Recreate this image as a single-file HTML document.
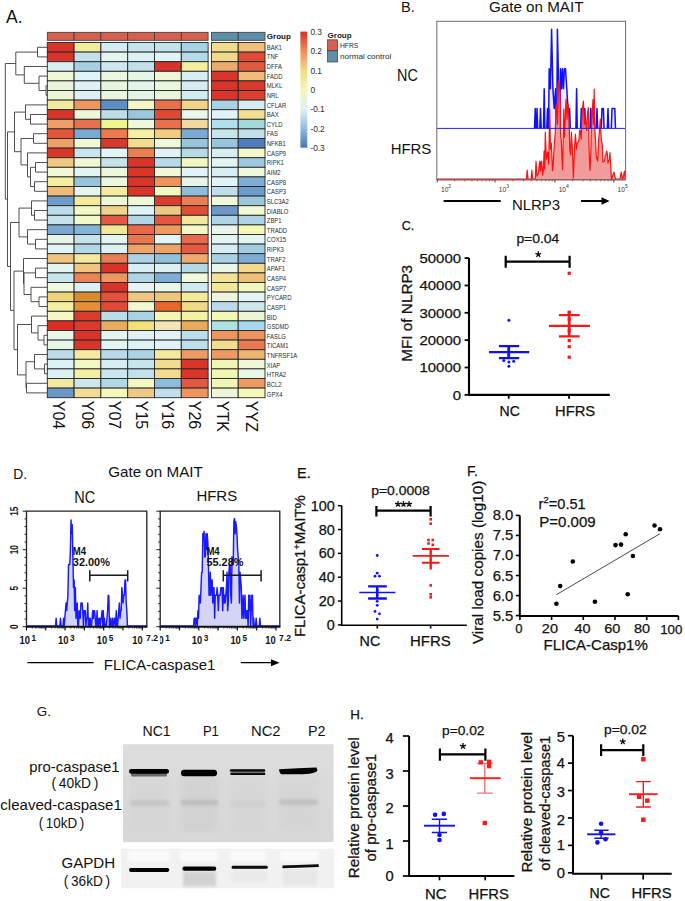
<!DOCTYPE html>
<html><head><meta charset="utf-8"><title>Figure</title>
<style>
html,body{margin:0;padding:0;background:#fff;}
svg{display:block;}
text{font-family:"Liberation Sans", sans-serif;}
.hv text{stroke:#111;stroke-width:0.25px;}
</style></head><body>
<svg width="685" height="901" viewBox="0 0 685 901" font-family="Liberation Sans, sans-serif">
<rect width="685" height="901" fill="#fff"/>
<text x="6" y="23" font-size="17.5" fill="#111">A.</text>
<rect x="47.30" y="32.3" width="26.80" height="8" fill="#D65F4F" stroke="#3a3a3a" stroke-width="0.8"/>
<rect x="74.10" y="32.3" width="26.80" height="8" fill="#D65F4F" stroke="#3a3a3a" stroke-width="0.8"/>
<rect x="100.90" y="32.3" width="26.80" height="8" fill="#D65F4F" stroke="#3a3a3a" stroke-width="0.8"/>
<rect x="127.70" y="32.3" width="26.80" height="8" fill="#D65F4F" stroke="#3a3a3a" stroke-width="0.8"/>
<rect x="154.50" y="32.3" width="26.80" height="8" fill="#D65F4F" stroke="#3a3a3a" stroke-width="0.8"/>
<rect x="181.30" y="32.3" width="26.80" height="8" fill="#D65F4F" stroke="#3a3a3a" stroke-width="0.8"/>
<rect x="211.40" y="32.3" width="26.80" height="8" fill="#5F8FA8" stroke="#3a3a3a" stroke-width="0.8"/>
<rect x="238.20" y="32.3" width="26.80" height="8" fill="#5F8FA8" stroke="#3a3a3a" stroke-width="0.8"/>
<rect x="47.30" y="42.50" width="26.80" height="9.60" fill="#D9342A" stroke="#262626" stroke-width="0.9"/>
<rect x="74.10" y="42.50" width="26.80" height="9.60" fill="#F3EC9C" stroke="#262626" stroke-width="0.9"/>
<rect x="100.90" y="42.50" width="26.80" height="9.60" fill="#D5EDF2" stroke="#262626" stroke-width="0.9"/>
<rect x="127.70" y="42.50" width="26.80" height="9.60" fill="#C7E3EC" stroke="#262626" stroke-width="0.9"/>
<rect x="154.50" y="42.50" width="26.80" height="9.60" fill="#C3E2EB" stroke="#262626" stroke-width="0.9"/>
<rect x="181.30" y="42.50" width="26.80" height="9.60" fill="#A9D3E4" stroke="#262626" stroke-width="0.9"/>
<rect x="211.40" y="42.50" width="26.80" height="9.60" fill="#F1DE8D" stroke="#262626" stroke-width="0.9"/>
<rect x="238.20" y="42.50" width="26.80" height="9.60" fill="#EFBF7C" stroke="#262626" stroke-width="0.9"/>
<rect x="47.30" y="52.10" width="26.80" height="9.60" fill="#D9342A" stroke="#262626" stroke-width="0.9"/>
<rect x="74.10" y="52.10" width="26.80" height="9.60" fill="#C3E1EB" stroke="#262626" stroke-width="0.9"/>
<rect x="100.90" y="52.10" width="26.80" height="9.60" fill="#E5F5F0" stroke="#262626" stroke-width="0.9"/>
<rect x="127.70" y="52.10" width="26.80" height="9.60" fill="#DCF1F3" stroke="#262626" stroke-width="0.9"/>
<rect x="154.50" y="52.10" width="26.80" height="9.60" fill="#E0F3F6" stroke="#262626" stroke-width="0.9"/>
<rect x="181.30" y="52.10" width="26.80" height="9.60" fill="#B5DAE7" stroke="#262626" stroke-width="0.9"/>
<rect x="211.40" y="52.10" width="26.80" height="9.60" fill="#F0D98A" stroke="#262626" stroke-width="0.9"/>
<rect x="238.20" y="52.10" width="26.80" height="9.60" fill="#E04A35" stroke="#262626" stroke-width="0.9"/>
<rect x="47.30" y="61.70" width="26.80" height="9.60" fill="#D7EEF3" stroke="#262626" stroke-width="0.9"/>
<rect x="74.10" y="61.70" width="26.80" height="9.60" fill="#A6D0E3" stroke="#262626" stroke-width="0.9"/>
<rect x="100.90" y="61.70" width="26.80" height="9.60" fill="#CFE8EF" stroke="#262626" stroke-width="0.9"/>
<rect x="127.70" y="61.70" width="26.80" height="9.60" fill="#C2E0EA" stroke="#262626" stroke-width="0.9"/>
<rect x="154.50" y="61.70" width="26.80" height="9.60" fill="#D83229" stroke="#262626" stroke-width="0.9"/>
<rect x="181.30" y="61.70" width="26.80" height="9.60" fill="#F3EEA0" stroke="#262626" stroke-width="0.9"/>
<rect x="211.40" y="61.70" width="26.80" height="9.60" fill="#EDAA6E" stroke="#262626" stroke-width="0.9"/>
<rect x="238.20" y="61.70" width="26.80" height="9.60" fill="#E25B3F" stroke="#262626" stroke-width="0.9"/>
<rect x="47.30" y="71.30" width="26.80" height="9.60" fill="#EEF8D6" stroke="#262626" stroke-width="0.9"/>
<rect x="74.10" y="71.30" width="26.80" height="9.60" fill="#E1F3F6" stroke="#262626" stroke-width="0.9"/>
<rect x="100.90" y="71.30" width="26.80" height="9.60" fill="#EAF6DF" stroke="#262626" stroke-width="0.9"/>
<rect x="127.70" y="71.30" width="26.80" height="9.60" fill="#E5F5E6" stroke="#262626" stroke-width="0.9"/>
<rect x="154.50" y="71.30" width="26.80" height="9.60" fill="#EDF7D8" stroke="#262626" stroke-width="0.9"/>
<rect x="181.30" y="71.30" width="26.80" height="9.60" fill="#D6EDF2" stroke="#262626" stroke-width="0.9"/>
<rect x="211.40" y="71.30" width="26.80" height="9.60" fill="#D8342A" stroke="#262626" stroke-width="0.9"/>
<rect x="238.20" y="71.30" width="26.80" height="9.60" fill="#EEBB78" stroke="#262626" stroke-width="0.9"/>
<rect x="47.30" y="80.90" width="26.80" height="9.60" fill="#EAF6DB" stroke="#262626" stroke-width="0.9"/>
<rect x="74.10" y="80.90" width="26.80" height="9.60" fill="#DEF2F5" stroke="#262626" stroke-width="0.9"/>
<rect x="100.90" y="80.90" width="26.80" height="9.60" fill="#E8F6E0" stroke="#262626" stroke-width="0.9"/>
<rect x="127.70" y="80.90" width="26.80" height="9.60" fill="#E3F4EA" stroke="#262626" stroke-width="0.9"/>
<rect x="154.50" y="80.90" width="26.80" height="9.60" fill="#E9F6E0" stroke="#262626" stroke-width="0.9"/>
<rect x="181.30" y="80.90" width="26.80" height="9.60" fill="#D4ECF2" stroke="#262626" stroke-width="0.9"/>
<rect x="211.40" y="80.90" width="26.80" height="9.60" fill="#D8342A" stroke="#262626" stroke-width="0.9"/>
<rect x="238.20" y="80.90" width="26.80" height="9.60" fill="#D83A2B" stroke="#262626" stroke-width="0.9"/>
<rect x="47.30" y="90.50" width="26.80" height="9.60" fill="#EDF7D8" stroke="#262626" stroke-width="0.9"/>
<rect x="74.10" y="90.50" width="26.80" height="9.60" fill="#DDF1F4" stroke="#262626" stroke-width="0.9"/>
<rect x="100.90" y="90.50" width="26.80" height="9.60" fill="#E8F5E0" stroke="#262626" stroke-width="0.9"/>
<rect x="127.70" y="90.50" width="26.80" height="9.60" fill="#E3F4E8" stroke="#262626" stroke-width="0.9"/>
<rect x="154.50" y="90.50" width="26.80" height="9.60" fill="#EAF6DC" stroke="#262626" stroke-width="0.9"/>
<rect x="181.30" y="90.50" width="26.80" height="9.60" fill="#D3EBF1" stroke="#262626" stroke-width="0.9"/>
<rect x="211.40" y="90.50" width="26.80" height="9.60" fill="#D9352A" stroke="#262626" stroke-width="0.9"/>
<rect x="238.20" y="90.50" width="26.80" height="9.60" fill="#DD402F" stroke="#262626" stroke-width="0.9"/>
<rect x="47.30" y="100.10" width="26.80" height="9.60" fill="#F3EC9E" stroke="#262626" stroke-width="0.9"/>
<rect x="74.10" y="100.10" width="26.80" height="9.60" fill="#EE9660" stroke="#262626" stroke-width="0.9"/>
<rect x="100.90" y="100.10" width="26.80" height="9.60" fill="#5F8DC5" stroke="#262626" stroke-width="0.9"/>
<rect x="127.70" y="100.10" width="26.80" height="9.60" fill="#F3F8C5" stroke="#262626" stroke-width="0.9"/>
<rect x="154.50" y="100.10" width="26.80" height="9.60" fill="#E8704C" stroke="#262626" stroke-width="0.9"/>
<rect x="181.30" y="100.10" width="26.80" height="9.60" fill="#F1D48A" stroke="#262626" stroke-width="0.9"/>
<rect x="211.40" y="100.10" width="26.80" height="9.60" fill="#A8D1E3" stroke="#262626" stroke-width="0.9"/>
<rect x="238.20" y="100.10" width="26.80" height="9.60" fill="#D4ECF2" stroke="#262626" stroke-width="0.9"/>
<rect x="47.30" y="109.70" width="26.80" height="9.60" fill="#D8342A" stroke="#262626" stroke-width="0.9"/>
<rect x="74.10" y="109.70" width="26.80" height="9.60" fill="#EEF8D8" stroke="#262626" stroke-width="0.9"/>
<rect x="100.90" y="109.70" width="26.80" height="9.60" fill="#BDDDE9" stroke="#262626" stroke-width="0.9"/>
<rect x="127.70" y="109.70" width="26.80" height="9.60" fill="#9AC7DE" stroke="#262626" stroke-width="0.9"/>
<rect x="154.50" y="109.70" width="26.80" height="9.60" fill="#E04A35" stroke="#262626" stroke-width="0.9"/>
<rect x="181.30" y="109.70" width="26.80" height="9.60" fill="#E8F6EC" stroke="#262626" stroke-width="0.9"/>
<rect x="211.40" y="109.70" width="26.80" height="9.60" fill="#E0F3F6" stroke="#262626" stroke-width="0.9"/>
<rect x="238.20" y="109.70" width="26.80" height="9.60" fill="#F2DE90" stroke="#262626" stroke-width="0.9"/>
<rect x="47.30" y="119.30" width="26.80" height="9.60" fill="#EE9D66" stroke="#262626" stroke-width="0.9"/>
<rect x="74.10" y="119.30" width="26.80" height="9.60" fill="#E8714B" stroke="#262626" stroke-width="0.9"/>
<rect x="100.90" y="119.30" width="26.80" height="9.60" fill="#ECF48C" stroke="#262626" stroke-width="0.9"/>
<rect x="127.70" y="119.30" width="26.80" height="9.60" fill="#EEF8DA" stroke="#262626" stroke-width="0.9"/>
<rect x="154.50" y="119.30" width="26.80" height="9.60" fill="#E8704C" stroke="#262626" stroke-width="0.9"/>
<rect x="181.30" y="119.30" width="26.80" height="9.60" fill="#F2D89E" stroke="#262626" stroke-width="0.9"/>
<rect x="211.40" y="119.30" width="26.80" height="9.60" fill="#B1E0EC" stroke="#262626" stroke-width="0.9"/>
<rect x="238.20" y="119.30" width="26.80" height="9.60" fill="#A3D8DA" stroke="#262626" stroke-width="0.9"/>
<rect x="47.30" y="128.90" width="26.80" height="9.60" fill="#E2553B" stroke="#262626" stroke-width="0.9"/>
<rect x="74.10" y="128.90" width="26.80" height="9.60" fill="#7AA9D2" stroke="#262626" stroke-width="0.9"/>
<rect x="100.90" y="128.90" width="26.80" height="9.60" fill="#EC7A50" stroke="#262626" stroke-width="0.9"/>
<rect x="127.70" y="128.90" width="26.80" height="9.60" fill="#F4EFA4" stroke="#262626" stroke-width="0.9"/>
<rect x="154.50" y="128.90" width="26.80" height="9.60" fill="#F0CB80" stroke="#262626" stroke-width="0.9"/>
<rect x="181.30" y="128.90" width="26.80" height="9.60" fill="#7DAAD2" stroke="#262626" stroke-width="0.9"/>
<rect x="211.40" y="128.90" width="26.80" height="9.60" fill="#C8E4EC" stroke="#262626" stroke-width="0.9"/>
<rect x="238.20" y="128.90" width="26.80" height="9.60" fill="#C2DFEA" stroke="#262626" stroke-width="0.9"/>
<rect x="47.30" y="138.50" width="26.80" height="9.60" fill="#EEA068" stroke="#262626" stroke-width="0.9"/>
<rect x="74.10" y="138.50" width="26.80" height="9.60" fill="#EEF8D6" stroke="#262626" stroke-width="0.9"/>
<rect x="100.90" y="138.50" width="26.80" height="9.60" fill="#D8372B" stroke="#262626" stroke-width="0.9"/>
<rect x="127.70" y="138.50" width="26.80" height="9.60" fill="#F1DD90" stroke="#262626" stroke-width="0.9"/>
<rect x="154.50" y="138.50" width="26.80" height="9.60" fill="#EEF8DC" stroke="#262626" stroke-width="0.9"/>
<rect x="181.30" y="138.50" width="26.80" height="9.60" fill="#97C5DC" stroke="#262626" stroke-width="0.9"/>
<rect x="211.40" y="138.50" width="26.80" height="9.60" fill="#98C6DC" stroke="#262626" stroke-width="0.9"/>
<rect x="238.20" y="138.50" width="26.80" height="9.60" fill="#4F7CBB" stroke="#262626" stroke-width="0.9"/>
<rect x="47.30" y="148.10" width="26.80" height="9.60" fill="#D9362A" stroke="#262626" stroke-width="0.9"/>
<rect x="74.10" y="148.10" width="26.80" height="9.60" fill="#C8E4EE" stroke="#262626" stroke-width="0.9"/>
<rect x="100.90" y="148.10" width="26.80" height="9.60" fill="#E3F4F4" stroke="#262626" stroke-width="0.9"/>
<rect x="127.70" y="148.10" width="26.80" height="9.60" fill="#EB7D52" stroke="#262626" stroke-width="0.9"/>
<rect x="154.50" y="148.10" width="26.80" height="9.60" fill="#DFF2F6" stroke="#262626" stroke-width="0.9"/>
<rect x="181.30" y="148.10" width="26.80" height="9.60" fill="#B8DAE6" stroke="#262626" stroke-width="0.9"/>
<rect x="211.40" y="148.10" width="26.80" height="9.60" fill="#D8EEF2" stroke="#262626" stroke-width="0.9"/>
<rect x="238.20" y="148.10" width="26.80" height="9.60" fill="#F2F8C8" stroke="#262626" stroke-width="0.9"/>
<rect x="47.30" y="157.70" width="26.80" height="9.60" fill="#EFC883" stroke="#262626" stroke-width="0.9"/>
<rect x="74.10" y="157.70" width="26.80" height="9.60" fill="#EEF8D4" stroke="#262626" stroke-width="0.9"/>
<rect x="100.90" y="157.70" width="26.80" height="9.60" fill="#C6E3EC" stroke="#262626" stroke-width="0.9"/>
<rect x="127.70" y="157.70" width="26.80" height="9.60" fill="#D8342A" stroke="#262626" stroke-width="0.9"/>
<rect x="154.50" y="157.70" width="26.80" height="9.60" fill="#B8DAE7" stroke="#262626" stroke-width="0.9"/>
<rect x="181.30" y="157.70" width="26.80" height="9.60" fill="#F2F7C0" stroke="#262626" stroke-width="0.9"/>
<rect x="211.40" y="157.70" width="26.80" height="9.60" fill="#E3F4F2" stroke="#262626" stroke-width="0.9"/>
<rect x="238.20" y="157.70" width="26.80" height="9.60" fill="#9DC9DF" stroke="#262626" stroke-width="0.9"/>
<rect x="47.30" y="167.30" width="26.80" height="9.60" fill="#F0F8D4" stroke="#262626" stroke-width="0.9"/>
<rect x="74.10" y="167.30" width="26.80" height="9.60" fill="#E4F4EE" stroke="#262626" stroke-width="0.9"/>
<rect x="100.90" y="167.30" width="26.80" height="9.60" fill="#ECF6D8" stroke="#262626" stroke-width="0.9"/>
<rect x="127.70" y="167.30" width="26.80" height="9.60" fill="#D8342A" stroke="#262626" stroke-width="0.9"/>
<rect x="154.50" y="167.30" width="26.80" height="9.60" fill="#F0F8D8" stroke="#262626" stroke-width="0.9"/>
<rect x="181.30" y="167.30" width="26.80" height="9.60" fill="#E0F3F6" stroke="#262626" stroke-width="0.9"/>
<rect x="211.40" y="167.30" width="26.80" height="9.60" fill="#D6EDF2" stroke="#262626" stroke-width="0.9"/>
<rect x="238.20" y="167.30" width="26.80" height="9.60" fill="#EEF8DA" stroke="#262626" stroke-width="0.9"/>
<rect x="47.30" y="176.90" width="26.80" height="9.60" fill="#F3EEA0" stroke="#262626" stroke-width="0.9"/>
<rect x="74.10" y="176.90" width="26.80" height="9.60" fill="#98C5DD" stroke="#262626" stroke-width="0.9"/>
<rect x="100.90" y="176.90" width="26.80" height="9.60" fill="#E8F6E2" stroke="#262626" stroke-width="0.9"/>
<rect x="127.70" y="176.90" width="26.80" height="9.60" fill="#D8342A" stroke="#262626" stroke-width="0.9"/>
<rect x="154.50" y="176.90" width="26.80" height="9.60" fill="#EE955F" stroke="#262626" stroke-width="0.9"/>
<rect x="181.30" y="176.90" width="26.80" height="9.60" fill="#E6F5E8" stroke="#262626" stroke-width="0.9"/>
<rect x="211.40" y="176.90" width="26.80" height="9.60" fill="#E0F3F6" stroke="#262626" stroke-width="0.9"/>
<rect x="238.20" y="176.90" width="26.80" height="9.60" fill="#80ADD4" stroke="#262626" stroke-width="0.9"/>
<rect x="47.30" y="186.50" width="26.80" height="9.60" fill="#EEBB78" stroke="#262626" stroke-width="0.9"/>
<rect x="74.10" y="186.50" width="26.80" height="9.60" fill="#E5F5EE" stroke="#262626" stroke-width="0.9"/>
<rect x="100.90" y="186.50" width="26.80" height="9.60" fill="#F3EBA0" stroke="#262626" stroke-width="0.9"/>
<rect x="127.70" y="186.50" width="26.80" height="9.60" fill="#D8342A" stroke="#262626" stroke-width="0.9"/>
<rect x="154.50" y="186.50" width="26.80" height="9.60" fill="#F2F8C2" stroke="#262626" stroke-width="0.9"/>
<rect x="181.30" y="186.50" width="26.80" height="9.60" fill="#8DBDDA" stroke="#262626" stroke-width="0.9"/>
<rect x="211.40" y="186.50" width="26.80" height="9.60" fill="#C0DFEA" stroke="#262626" stroke-width="0.9"/>
<rect x="238.20" y="186.50" width="26.80" height="9.60" fill="#6E9BCB" stroke="#262626" stroke-width="0.9"/>
<rect x="47.30" y="196.10" width="26.80" height="9.60" fill="#6E9DCB" stroke="#262626" stroke-width="0.9"/>
<rect x="74.10" y="196.10" width="26.80" height="9.60" fill="#F3EA9C" stroke="#262626" stroke-width="0.9"/>
<rect x="100.90" y="196.10" width="26.80" height="9.60" fill="#EEF8D4" stroke="#262626" stroke-width="0.9"/>
<rect x="127.70" y="196.10" width="26.80" height="9.60" fill="#EEF8D8" stroke="#262626" stroke-width="0.9"/>
<rect x="154.50" y="196.10" width="26.80" height="9.60" fill="#DC3C2E" stroke="#262626" stroke-width="0.9"/>
<rect x="181.30" y="196.10" width="26.80" height="9.60" fill="#EB7F54" stroke="#262626" stroke-width="0.9"/>
<rect x="211.40" y="196.10" width="26.80" height="9.60" fill="#EFF8D8" stroke="#262626" stroke-width="0.9"/>
<rect x="238.20" y="196.10" width="26.80" height="9.60" fill="#9CC8DE" stroke="#262626" stroke-width="0.9"/>
<rect x="47.30" y="205.70" width="26.80" height="9.60" fill="#BCDDE9" stroke="#262626" stroke-width="0.9"/>
<rect x="74.10" y="205.70" width="26.80" height="9.60" fill="#F2F7C4" stroke="#262626" stroke-width="0.9"/>
<rect x="100.90" y="205.70" width="26.80" height="9.60" fill="#EFD38A" stroke="#262626" stroke-width="0.9"/>
<rect x="127.70" y="205.70" width="26.80" height="9.60" fill="#DFF2F6" stroke="#262626" stroke-width="0.9"/>
<rect x="154.50" y="205.70" width="26.80" height="9.60" fill="#EFC884" stroke="#262626" stroke-width="0.9"/>
<rect x="181.30" y="205.70" width="26.80" height="9.60" fill="#E04E37" stroke="#262626" stroke-width="0.9"/>
<rect x="211.40" y="205.70" width="26.80" height="9.60" fill="#6B98C9" stroke="#262626" stroke-width="0.9"/>
<rect x="238.20" y="205.70" width="26.80" height="9.60" fill="#F0F8D4" stroke="#262626" stroke-width="0.9"/>
<rect x="47.30" y="215.30" width="26.80" height="9.60" fill="#C6E3EC" stroke="#262626" stroke-width="0.9"/>
<rect x="74.10" y="215.30" width="26.80" height="9.60" fill="#F2F8C8" stroke="#262626" stroke-width="0.9"/>
<rect x="100.90" y="215.30" width="26.80" height="9.60" fill="#E25840" stroke="#262626" stroke-width="0.9"/>
<rect x="127.70" y="215.30" width="26.80" height="9.60" fill="#B0D6E6" stroke="#262626" stroke-width="0.9"/>
<rect x="154.50" y="215.30" width="26.80" height="9.60" fill="#E25640" stroke="#262626" stroke-width="0.9"/>
<rect x="181.30" y="215.30" width="26.80" height="9.60" fill="#F2E79C" stroke="#262626" stroke-width="0.9"/>
<rect x="211.40" y="215.30" width="26.80" height="9.60" fill="#AED4E5" stroke="#262626" stroke-width="0.9"/>
<rect x="238.20" y="215.30" width="26.80" height="9.60" fill="#ACD4E5" stroke="#262626" stroke-width="0.9"/>
<rect x="47.30" y="224.90" width="26.80" height="9.60" fill="#79A8D2" stroke="#262626" stroke-width="0.9"/>
<rect x="74.10" y="224.90" width="26.80" height="9.60" fill="#86B4D8" stroke="#262626" stroke-width="0.9"/>
<rect x="100.90" y="224.90" width="26.80" height="9.60" fill="#F2E698" stroke="#262626" stroke-width="0.9"/>
<rect x="127.70" y="224.90" width="26.80" height="9.60" fill="#E8684A" stroke="#262626" stroke-width="0.9"/>
<rect x="154.50" y="224.90" width="26.80" height="9.60" fill="#EE9A62" stroke="#262626" stroke-width="0.9"/>
<rect x="181.30" y="224.90" width="26.80" height="9.60" fill="#F2F8C6" stroke="#262626" stroke-width="0.9"/>
<rect x="211.40" y="224.90" width="26.80" height="9.60" fill="#E8F5EA" stroke="#262626" stroke-width="0.9"/>
<rect x="238.20" y="224.90" width="26.80" height="9.60" fill="#F2F8B8" stroke="#262626" stroke-width="0.9"/>
<rect x="47.30" y="234.50" width="26.80" height="9.60" fill="#E6F5E8" stroke="#262626" stroke-width="0.9"/>
<rect x="74.10" y="234.50" width="26.80" height="9.60" fill="#C6E3EC" stroke="#262626" stroke-width="0.9"/>
<rect x="100.90" y="234.50" width="26.80" height="9.60" fill="#E4F4F2" stroke="#262626" stroke-width="0.9"/>
<rect x="127.70" y="234.50" width="26.80" height="9.60" fill="#E97650" stroke="#262626" stroke-width="0.9"/>
<rect x="154.50" y="234.50" width="26.80" height="9.60" fill="#E2F4F6" stroke="#262626" stroke-width="0.9"/>
<rect x="181.30" y="234.50" width="26.80" height="9.60" fill="#E86A4B" stroke="#262626" stroke-width="0.9"/>
<rect x="211.40" y="234.50" width="26.80" height="9.60" fill="#E4F4F2" stroke="#262626" stroke-width="0.9"/>
<rect x="238.20" y="234.50" width="26.80" height="9.60" fill="#E4F4F2" stroke="#262626" stroke-width="0.9"/>
<rect x="47.30" y="244.10" width="26.80" height="9.60" fill="#E0F3F6" stroke="#262626" stroke-width="0.9"/>
<rect x="74.10" y="244.10" width="26.80" height="9.60" fill="#B2D8E7" stroke="#262626" stroke-width="0.9"/>
<rect x="100.90" y="244.10" width="26.80" height="9.60" fill="#DCF1F4" stroke="#262626" stroke-width="0.9"/>
<rect x="127.70" y="244.10" width="26.80" height="9.60" fill="#EEA368" stroke="#262626" stroke-width="0.9"/>
<rect x="154.50" y="244.10" width="26.80" height="9.60" fill="#EEA266" stroke="#262626" stroke-width="0.9"/>
<rect x="181.30" y="244.10" width="26.80" height="9.60" fill="#E4593F" stroke="#262626" stroke-width="0.9"/>
<rect x="211.40" y="244.10" width="26.80" height="9.60" fill="#D4ECF2" stroke="#262626" stroke-width="0.9"/>
<rect x="238.20" y="244.10" width="26.80" height="9.60" fill="#A2CCE1" stroke="#262626" stroke-width="0.9"/>
<rect x="47.30" y="253.70" width="26.80" height="9.60" fill="#EFC27E" stroke="#262626" stroke-width="0.9"/>
<rect x="74.10" y="253.70" width="26.80" height="9.60" fill="#F3E89C" stroke="#262626" stroke-width="0.9"/>
<rect x="100.90" y="253.70" width="26.80" height="9.60" fill="#E97E55" stroke="#262626" stroke-width="0.9"/>
<rect x="127.70" y="253.70" width="26.80" height="9.60" fill="#ABD3E4" stroke="#262626" stroke-width="0.9"/>
<rect x="154.50" y="253.70" width="26.80" height="9.60" fill="#90C0DA" stroke="#262626" stroke-width="0.9"/>
<rect x="181.30" y="253.70" width="26.80" height="9.60" fill="#EEAA6E" stroke="#262626" stroke-width="0.9"/>
<rect x="211.40" y="253.70" width="26.80" height="9.60" fill="#A8D1E3" stroke="#262626" stroke-width="0.9"/>
<rect x="238.20" y="253.70" width="26.80" height="9.60" fill="#7EADD4" stroke="#262626" stroke-width="0.9"/>
<rect x="47.30" y="263.30" width="26.80" height="9.60" fill="#E4F4F2" stroke="#262626" stroke-width="0.9"/>
<rect x="74.10" y="263.30" width="26.80" height="9.60" fill="#EFC580" stroke="#262626" stroke-width="0.9"/>
<rect x="100.90" y="263.30" width="26.80" height="9.60" fill="#D93329" stroke="#262626" stroke-width="0.9"/>
<rect x="127.70" y="263.30" width="26.80" height="9.60" fill="#D8EEF2" stroke="#262626" stroke-width="0.9"/>
<rect x="154.50" y="263.30" width="26.80" height="9.60" fill="#DCF0F2" stroke="#262626" stroke-width="0.9"/>
<rect x="181.30" y="263.30" width="26.80" height="9.60" fill="#B4D8E6" stroke="#262626" stroke-width="0.9"/>
<rect x="211.40" y="263.30" width="26.80" height="9.60" fill="#E8F6EC" stroke="#262626" stroke-width="0.9"/>
<rect x="238.20" y="263.30" width="26.80" height="9.60" fill="#F2D88C" stroke="#262626" stroke-width="0.9"/>
<rect x="47.30" y="272.90" width="26.80" height="9.60" fill="#C8E4EC" stroke="#262626" stroke-width="0.9"/>
<rect x="74.10" y="272.90" width="26.80" height="9.60" fill="#EB8358" stroke="#262626" stroke-width="0.9"/>
<rect x="100.90" y="272.90" width="26.80" height="9.60" fill="#EE9560" stroke="#262626" stroke-width="0.9"/>
<rect x="127.70" y="272.90" width="26.80" height="9.60" fill="#B0D6E6" stroke="#262626" stroke-width="0.9"/>
<rect x="154.50" y="272.90" width="26.80" height="9.60" fill="#7EAED4" stroke="#262626" stroke-width="0.9"/>
<rect x="181.30" y="272.90" width="26.80" height="9.60" fill="#EEF8DA" stroke="#262626" stroke-width="0.9"/>
<rect x="211.40" y="272.90" width="26.80" height="9.60" fill="#F2E298" stroke="#262626" stroke-width="0.9"/>
<rect x="238.20" y="272.90" width="26.80" height="9.60" fill="#EDBF78" stroke="#262626" stroke-width="0.9"/>
<rect x="47.30" y="282.50" width="26.80" height="9.60" fill="#EEF8DC" stroke="#262626" stroke-width="0.9"/>
<rect x="74.10" y="282.50" width="26.80" height="9.60" fill="#DAF0F5" stroke="#262626" stroke-width="0.9"/>
<rect x="100.90" y="282.50" width="26.80" height="9.60" fill="#D9342A" stroke="#262626" stroke-width="0.9"/>
<rect x="127.70" y="282.50" width="26.80" height="9.60" fill="#E6F5F2" stroke="#262626" stroke-width="0.9"/>
<rect x="154.50" y="282.50" width="26.80" height="9.60" fill="#E8F6EC" stroke="#262626" stroke-width="0.9"/>
<rect x="181.30" y="282.50" width="26.80" height="9.60" fill="#D0EAF0" stroke="#262626" stroke-width="0.9"/>
<rect x="211.40" y="282.50" width="26.80" height="9.60" fill="#F2E698" stroke="#262626" stroke-width="0.9"/>
<rect x="238.20" y="282.50" width="26.80" height="9.60" fill="#F2F8BC" stroke="#262626" stroke-width="0.9"/>
<rect x="47.30" y="292.10" width="26.80" height="9.60" fill="#EDD478" stroke="#262626" stroke-width="0.9"/>
<rect x="74.10" y="292.10" width="26.80" height="9.60" fill="#DA8B2E" stroke="#262626" stroke-width="0.9"/>
<rect x="100.90" y="292.10" width="26.80" height="9.60" fill="#E4513C" stroke="#262626" stroke-width="0.9"/>
<rect x="127.70" y="292.10" width="26.80" height="9.60" fill="#EFC583" stroke="#262626" stroke-width="0.9"/>
<rect x="154.50" y="292.10" width="26.80" height="9.60" fill="#EEC57A" stroke="#262626" stroke-width="0.9"/>
<rect x="181.30" y="292.10" width="26.80" height="9.60" fill="#F3EA9A" stroke="#262626" stroke-width="0.9"/>
<rect x="211.40" y="292.10" width="26.80" height="9.60" fill="#EAF6DE" stroke="#262626" stroke-width="0.9"/>
<rect x="238.20" y="292.10" width="26.80" height="9.60" fill="#E2F4F4" stroke="#262626" stroke-width="0.9"/>
<rect x="47.30" y="301.70" width="26.80" height="9.60" fill="#F4EEA4" stroke="#262626" stroke-width="0.9"/>
<rect x="74.10" y="301.70" width="26.80" height="9.60" fill="#E68E38" stroke="#262626" stroke-width="0.9"/>
<rect x="100.90" y="301.70" width="26.80" height="9.60" fill="#E24A38" stroke="#262626" stroke-width="0.9"/>
<rect x="127.70" y="301.70" width="26.80" height="9.60" fill="#F2F8D0" stroke="#262626" stroke-width="0.9"/>
<rect x="154.50" y="301.70" width="26.80" height="9.60" fill="#E8682C" stroke="#262626" stroke-width="0.9"/>
<rect x="181.30" y="301.70" width="26.80" height="9.60" fill="#F2D88A" stroke="#262626" stroke-width="0.9"/>
<rect x="211.40" y="301.70" width="26.80" height="9.60" fill="#BCD9EE" stroke="#262626" stroke-width="0.9"/>
<rect x="238.20" y="301.70" width="26.80" height="9.60" fill="#CFE8EE" stroke="#262626" stroke-width="0.9"/>
<rect x="47.30" y="311.30" width="26.80" height="9.60" fill="#F4F8C4" stroke="#262626" stroke-width="0.9"/>
<rect x="74.10" y="311.30" width="26.80" height="9.60" fill="#DB3A2E" stroke="#262626" stroke-width="0.9"/>
<rect x="100.90" y="311.30" width="26.80" height="9.60" fill="#B8DCE9" stroke="#262626" stroke-width="0.9"/>
<rect x="127.70" y="311.30" width="26.80" height="9.60" fill="#AAD2E4" stroke="#262626" stroke-width="0.9"/>
<rect x="154.50" y="311.30" width="26.80" height="9.60" fill="#F4F6B4" stroke="#262626" stroke-width="0.9"/>
<rect x="181.30" y="311.30" width="26.80" height="9.60" fill="#F3F2A4" stroke="#262626" stroke-width="0.9"/>
<rect x="211.40" y="311.30" width="26.80" height="9.60" fill="#F2F8B4" stroke="#262626" stroke-width="0.9"/>
<rect x="238.20" y="311.30" width="26.80" height="9.60" fill="#ECF6D4" stroke="#262626" stroke-width="0.9"/>
<rect x="47.30" y="320.90" width="26.80" height="9.60" fill="#DA2E22" stroke="#262626" stroke-width="0.9"/>
<rect x="74.10" y="320.90" width="26.80" height="9.60" fill="#DC3A2C" stroke="#262626" stroke-width="0.9"/>
<rect x="100.90" y="320.90" width="26.80" height="9.60" fill="#E8AC5E" stroke="#262626" stroke-width="0.9"/>
<rect x="127.70" y="320.90" width="26.80" height="9.60" fill="#F3E078" stroke="#262626" stroke-width="0.9"/>
<rect x="154.50" y="320.90" width="26.80" height="9.60" fill="#F4E3B4" stroke="#262626" stroke-width="0.9"/>
<rect x="181.30" y="320.90" width="26.80" height="9.60" fill="#E8AB5E" stroke="#262626" stroke-width="0.9"/>
<rect x="211.40" y="320.90" width="26.80" height="9.60" fill="#AEE0E4" stroke="#262626" stroke-width="0.9"/>
<rect x="238.20" y="320.90" width="26.80" height="9.60" fill="#A8D8F0" stroke="#262626" stroke-width="0.9"/>
<rect x="47.30" y="330.50" width="26.80" height="9.60" fill="#E8F6EA" stroke="#262626" stroke-width="0.9"/>
<rect x="74.10" y="330.50" width="26.80" height="9.60" fill="#D9342A" stroke="#262626" stroke-width="0.9"/>
<rect x="100.90" y="330.50" width="26.80" height="9.60" fill="#E4F4F2" stroke="#262626" stroke-width="0.9"/>
<rect x="127.70" y="330.50" width="26.80" height="9.60" fill="#DFF2F5" stroke="#262626" stroke-width="0.9"/>
<rect x="154.50" y="330.50" width="26.80" height="9.60" fill="#E0F3F6" stroke="#262626" stroke-width="0.9"/>
<rect x="181.30" y="330.50" width="26.80" height="9.60" fill="#BCDDE9" stroke="#262626" stroke-width="0.9"/>
<rect x="211.40" y="330.50" width="26.80" height="9.60" fill="#EE955F" stroke="#262626" stroke-width="0.9"/>
<rect x="238.20" y="330.50" width="26.80" height="9.60" fill="#EE935E" stroke="#262626" stroke-width="0.9"/>
<rect x="47.30" y="340.10" width="26.80" height="9.60" fill="#E8F6E6" stroke="#262626" stroke-width="0.9"/>
<rect x="74.10" y="340.10" width="26.80" height="9.60" fill="#D9342A" stroke="#262626" stroke-width="0.9"/>
<rect x="100.90" y="340.10" width="26.80" height="9.60" fill="#E4F4F2" stroke="#262626" stroke-width="0.9"/>
<rect x="127.70" y="340.10" width="26.80" height="9.60" fill="#DFF2F5" stroke="#262626" stroke-width="0.9"/>
<rect x="154.50" y="340.10" width="26.80" height="9.60" fill="#E0F3F6" stroke="#262626" stroke-width="0.9"/>
<rect x="181.30" y="340.10" width="26.80" height="9.60" fill="#BEDEE9" stroke="#262626" stroke-width="0.9"/>
<rect x="211.40" y="340.10" width="26.80" height="9.60" fill="#F2DC8E" stroke="#262626" stroke-width="0.9"/>
<rect x="238.20" y="340.10" width="26.80" height="9.60" fill="#EA7A52" stroke="#262626" stroke-width="0.9"/>
<rect x="47.30" y="349.70" width="26.80" height="9.60" fill="#BCDCE9" stroke="#262626" stroke-width="0.9"/>
<rect x="74.10" y="349.70" width="26.80" height="9.60" fill="#F3E9A0" stroke="#262626" stroke-width="0.9"/>
<rect x="100.90" y="349.70" width="26.80" height="9.60" fill="#B8DAE8" stroke="#262626" stroke-width="0.9"/>
<rect x="127.70" y="349.70" width="26.80" height="9.60" fill="#ABD3E4" stroke="#262626" stroke-width="0.9"/>
<rect x="154.50" y="349.70" width="26.80" height="9.60" fill="#F3EA9E" stroke="#262626" stroke-width="0.9"/>
<rect x="181.30" y="349.70" width="26.80" height="9.60" fill="#EE9A62" stroke="#262626" stroke-width="0.9"/>
<rect x="211.40" y="349.70" width="26.80" height="9.60" fill="#EE9A62" stroke="#262626" stroke-width="0.9"/>
<rect x="238.20" y="349.70" width="26.80" height="9.60" fill="#EEB474" stroke="#262626" stroke-width="0.9"/>
<rect x="47.30" y="359.30" width="26.80" height="9.60" fill="#DCF1F5" stroke="#262626" stroke-width="0.9"/>
<rect x="74.10" y="359.30" width="26.80" height="9.60" fill="#F2F8C4" stroke="#262626" stroke-width="0.9"/>
<rect x="100.90" y="359.30" width="26.80" height="9.60" fill="#D6EDF2" stroke="#262626" stroke-width="0.9"/>
<rect x="127.70" y="359.30" width="26.80" height="9.60" fill="#C8E4EC" stroke="#262626" stroke-width="0.9"/>
<rect x="154.50" y="359.30" width="26.80" height="9.60" fill="#F2DC90" stroke="#262626" stroke-width="0.9"/>
<rect x="181.30" y="359.30" width="26.80" height="9.60" fill="#D8342A" stroke="#262626" stroke-width="0.9"/>
<rect x="211.40" y="359.30" width="26.80" height="9.60" fill="#F2F6B4" stroke="#262626" stroke-width="0.9"/>
<rect x="238.20" y="359.30" width="26.80" height="9.60" fill="#EEF8D8" stroke="#262626" stroke-width="0.9"/>
<rect x="47.30" y="368.90" width="26.80" height="9.60" fill="#DCF1F5" stroke="#262626" stroke-width="0.9"/>
<rect x="74.10" y="368.90" width="26.80" height="9.60" fill="#F4EEA4" stroke="#262626" stroke-width="0.9"/>
<rect x="100.90" y="368.90" width="26.80" height="9.60" fill="#CCE6EE" stroke="#262626" stroke-width="0.9"/>
<rect x="127.70" y="368.90" width="26.80" height="9.60" fill="#C2E0EA" stroke="#262626" stroke-width="0.9"/>
<rect x="154.50" y="368.90" width="26.80" height="9.60" fill="#F2DA8E" stroke="#262626" stroke-width="0.9"/>
<rect x="181.30" y="368.90" width="26.80" height="9.60" fill="#D9362A" stroke="#262626" stroke-width="0.9"/>
<rect x="211.40" y="368.90" width="26.80" height="9.60" fill="#F2F6B4" stroke="#262626" stroke-width="0.9"/>
<rect x="238.20" y="368.90" width="26.80" height="9.60" fill="#E8F6E6" stroke="#262626" stroke-width="0.9"/>
<rect x="47.30" y="378.50" width="26.80" height="9.60" fill="#F3E8A0" stroke="#262626" stroke-width="0.9"/>
<rect x="74.10" y="378.50" width="26.80" height="9.60" fill="#CCE6EE" stroke="#262626" stroke-width="0.9"/>
<rect x="100.90" y="378.50" width="26.80" height="9.60" fill="#B2D8E7" stroke="#262626" stroke-width="0.9"/>
<rect x="127.70" y="378.50" width="26.80" height="9.60" fill="#F4F8C0" stroke="#262626" stroke-width="0.9"/>
<rect x="154.50" y="378.50" width="26.80" height="9.60" fill="#8DBDDA" stroke="#262626" stroke-width="0.9"/>
<rect x="181.30" y="378.50" width="26.80" height="9.60" fill="#E25840" stroke="#262626" stroke-width="0.9"/>
<rect x="211.40" y="378.50" width="26.80" height="9.60" fill="#F2F6B4" stroke="#262626" stroke-width="0.9"/>
<rect x="238.20" y="378.50" width="26.80" height="9.60" fill="#EE9A62" stroke="#262626" stroke-width="0.9"/>
<rect x="47.30" y="388.10" width="26.80" height="9.60" fill="#6A96C8" stroke="#262626" stroke-width="0.9"/>
<rect x="74.10" y="388.10" width="26.80" height="9.60" fill="#F2DC94" stroke="#262626" stroke-width="0.9"/>
<rect x="100.90" y="388.10" width="26.80" height="9.60" fill="#F4F8BC" stroke="#262626" stroke-width="0.9"/>
<rect x="127.70" y="388.10" width="26.80" height="9.60" fill="#EFC886" stroke="#262626" stroke-width="0.9"/>
<rect x="154.50" y="388.10" width="26.80" height="9.60" fill="#C0DFEA" stroke="#262626" stroke-width="0.9"/>
<rect x="181.30" y="388.10" width="26.80" height="9.60" fill="#EE955F" stroke="#262626" stroke-width="0.9"/>
<rect x="211.40" y="388.10" width="26.80" height="9.60" fill="#EEF6DA" stroke="#262626" stroke-width="0.9"/>
<rect x="238.20" y="388.10" width="26.80" height="9.60" fill="#F2F8B8" stroke="#262626" stroke-width="0.9"/>
<text x="266.8" y="38.8" font-size="8" font-weight="bold" fill="#111">Group</text>
<text transform="translate(266.8,49.70) scale(0.87,1)" font-size="6.8" fill="#2a2a2a">BAK1</text>
<text transform="translate(266.8,59.34) scale(0.87,1)" font-size="6.8" fill="#2a2a2a">TNF</text>
<text transform="translate(266.8,68.97) scale(0.87,1)" font-size="6.8" fill="#2a2a2a">DFFA</text>
<text transform="translate(266.8,78.61) scale(0.87,1)" font-size="6.8" fill="#2a2a2a">FADD</text>
<text transform="translate(266.8,88.24) scale(0.87,1)" font-size="6.8" fill="#2a2a2a">MLKL</text>
<text transform="translate(266.8,97.88) scale(0.87,1)" font-size="6.8" fill="#2a2a2a">NRL</text>
<text transform="translate(266.8,107.52) scale(0.87,1)" font-size="6.8" fill="#2a2a2a">CFLAR</text>
<text transform="translate(266.8,117.15) scale(0.87,1)" font-size="6.8" fill="#2a2a2a">BAX</text>
<text transform="translate(266.8,126.79) scale(0.87,1)" font-size="6.8" fill="#2a2a2a">CYLD</text>
<text transform="translate(266.8,136.42) scale(0.87,1)" font-size="6.8" fill="#2a2a2a">FAS</text>
<text transform="translate(266.8,146.06) scale(0.87,1)" font-size="6.8" fill="#2a2a2a">NFKB1</text>
<text transform="translate(266.8,155.70) scale(0.87,1)" font-size="6.8" fill="#2a2a2a">CASP9</text>
<text transform="translate(266.8,165.33) scale(0.87,1)" font-size="6.8" fill="#2a2a2a">RIPK1</text>
<text transform="translate(266.8,174.97) scale(0.87,1)" font-size="6.8" fill="#2a2a2a">AIM2</text>
<text transform="translate(266.8,184.61) scale(0.87,1)" font-size="6.8" fill="#2a2a2a">CASP8</text>
<text transform="translate(266.8,194.24) scale(0.87,1)" font-size="6.8" fill="#2a2a2a">CASP3</text>
<text transform="translate(266.8,203.88) scale(0.87,1)" font-size="6.8" fill="#2a2a2a">SLC3A2</text>
<text transform="translate(266.8,213.51) scale(0.87,1)" font-size="6.8" fill="#2a2a2a">DIABLO</text>
<text transform="translate(266.8,223.15) scale(0.87,1)" font-size="6.8" fill="#2a2a2a">ZBP1</text>
<text transform="translate(266.8,232.79) scale(0.87,1)" font-size="6.8" fill="#2a2a2a">TRADD</text>
<text transform="translate(266.8,242.42) scale(0.87,1)" font-size="6.8" fill="#2a2a2a">COX15</text>
<text transform="translate(266.8,252.06) scale(0.87,1)" font-size="6.8" fill="#2a2a2a">RIPK3</text>
<text transform="translate(266.8,261.69) scale(0.87,1)" font-size="6.8" fill="#2a2a2a">TRAF2</text>
<text transform="translate(266.8,271.33) scale(0.87,1)" font-size="6.8" fill="#2a2a2a">APAF1</text>
<text transform="translate(266.8,280.97) scale(0.87,1)" font-size="6.8" fill="#2a2a2a">CASP4</text>
<text transform="translate(266.8,290.60) scale(0.87,1)" font-size="6.8" fill="#2a2a2a">CASP7</text>
<text transform="translate(266.8,300.24) scale(0.87,1)" font-size="6.8" fill="#2a2a2a">PYCARD</text>
<text transform="translate(266.8,309.88) scale(0.87,1)" font-size="6.8" fill="#2a2a2a">CASP1</text>
<text transform="translate(266.8,319.51) scale(0.87,1)" font-size="6.8" fill="#2a2a2a">BID</text>
<text transform="translate(266.8,329.15) scale(0.87,1)" font-size="6.8" fill="#2a2a2a">GSDMD</text>
<text transform="translate(266.8,338.78) scale(0.87,1)" font-size="6.8" fill="#2a2a2a">FASLG</text>
<text transform="translate(266.8,348.42) scale(0.87,1)" font-size="6.8" fill="#2a2a2a">TICAM1</text>
<text transform="translate(266.8,358.06) scale(0.87,1)" font-size="6.8" fill="#2a2a2a">TNFRSF1A</text>
<text transform="translate(266.8,367.69) scale(0.87,1)" font-size="6.8" fill="#2a2a2a">XIAP</text>
<text transform="translate(266.8,377.33) scale(0.87,1)" font-size="6.8" fill="#2a2a2a">HTRA2</text>
<text transform="translate(266.8,386.96) scale(0.87,1)" font-size="6.8" fill="#2a2a2a">BCL2</text>
<text transform="translate(266.8,396.60) scale(0.87,1)" font-size="6.8" fill="#2a2a2a">GPX4</text>
<path d="M47.30 47.30H37.50V56.90H47.30" fill="none" stroke="#3c3c3c" stroke-width="0.9"/>
<path d="M47.30 85.70H46.00V95.30H47.30" fill="none" stroke="#3c3c3c" stroke-width="0.9"/>
<path d="M47.30 76.10H39.00V90.50H46.00" fill="none" stroke="#3c3c3c" stroke-width="0.9"/>
<path d="M47.30 66.50H24.30V83.30H39.00" fill="none" stroke="#3c3c3c" stroke-width="0.9"/>
<path d="M37.50 52.10H15.80V74.90H24.30" fill="none" stroke="#3c3c3c" stroke-width="0.9"/>
<path d="M47.30 114.50H30.50V124.10H47.30" fill="none" stroke="#3c3c3c" stroke-width="0.9"/>
<path d="M47.30 104.90H25.50V119.30H30.50" fill="none" stroke="#3c3c3c" stroke-width="0.9"/>
<path d="M47.30 133.70H33.50V143.30H47.30" fill="none" stroke="#3c3c3c" stroke-width="0.9"/>
<path d="M47.30 162.50H35.50V172.10H47.30" fill="none" stroke="#3c3c3c" stroke-width="0.9"/>
<path d="M47.30 181.70H34.50V191.30H47.30" fill="none" stroke="#3c3c3c" stroke-width="0.9"/>
<path d="M35.50 167.30H30.50V186.50H34.50" fill="none" stroke="#3c3c3c" stroke-width="0.9"/>
<path d="M47.30 152.90H27.50V176.90H30.50" fill="none" stroke="#3c3c3c" stroke-width="0.9"/>
<path d="M33.50 138.50H21.00V164.90H27.50" fill="none" stroke="#3c3c3c" stroke-width="0.9"/>
<path d="M25.50 112.10H14.50V151.70H21.00" fill="none" stroke="#3c3c3c" stroke-width="0.9"/>
<path d="M47.30 210.50H34.50V220.10H47.30" fill="none" stroke="#3c3c3c" stroke-width="0.9"/>
<path d="M47.30 200.90H31.50V215.30H34.50" fill="none" stroke="#3c3c3c" stroke-width="0.9"/>
<path d="M47.30 239.30H35.50V248.90H47.30" fill="none" stroke="#3c3c3c" stroke-width="0.9"/>
<path d="M47.30 229.70H27.50V244.10H35.50" fill="none" stroke="#3c3c3c" stroke-width="0.9"/>
<path d="M31.50 208.10H19.00V236.90H27.50" fill="none" stroke="#3c3c3c" stroke-width="0.9"/>
<path d="M47.30 268.10H35.50V277.70H47.30" fill="none" stroke="#3c3c3c" stroke-width="0.9"/>
<path d="M47.30 296.90H39.00V306.50H47.30" fill="none" stroke="#3c3c3c" stroke-width="0.9"/>
<path d="M47.30 287.30H31.00V301.70H39.00" fill="none" stroke="#3c3c3c" stroke-width="0.9"/>
<path d="M35.50 272.90H24.00V294.50H31.00" fill="none" stroke="#3c3c3c" stroke-width="0.9"/>
<path d="M47.30 258.50H23.50V283.70H24.00" fill="none" stroke="#3c3c3c" stroke-width="0.9"/>
<path d="M47.30 335.30H44.00V344.90H47.30" fill="none" stroke="#3c3c3c" stroke-width="0.9"/>
<path d="M47.30 325.70H38.00V340.10H44.00" fill="none" stroke="#3c3c3c" stroke-width="0.9"/>
<path d="M47.30 316.10H31.50V332.90H38.00" fill="none" stroke="#3c3c3c" stroke-width="0.9"/>
<path d="M47.30 364.10H44.50V373.70H47.30" fill="none" stroke="#3c3c3c" stroke-width="0.9"/>
<path d="M47.30 354.50H34.50V368.90H44.50" fill="none" stroke="#3c3c3c" stroke-width="0.9"/>
<path d="M47.30 383.30H26.50V392.90H47.30" fill="none" stroke="#3c3c3c" stroke-width="0.9"/>
<path d="M34.50 361.70H26.00V388.10H26.50" fill="none" stroke="#3c3c3c" stroke-width="0.9"/>
<path d="M31.50 324.50H17.50V374.90H26.00" fill="none" stroke="#3c3c3c" stroke-width="0.9"/>
<path d="M23.50 271.10H14.00V349.70H17.50" fill="none" stroke="#3c3c3c" stroke-width="0.9"/>
<path d="M19.00 222.50H10.50V310.40H14.00" fill="none" stroke="#3c3c3c" stroke-width="0.9"/>
<path d="M14.50 131.90H7.50V266.45H10.50" fill="none" stroke="#3c3c3c" stroke-width="0.9"/>
<path d="M15.80 63.50H5.30V199.17H7.50" fill="none" stroke="#3c3c3c" stroke-width="0.9"/>
<text transform="translate(53.20,400.8) rotate(90)" font-size="16" fill="#111">Y04</text>
<text transform="translate(82.00,400.8) rotate(90)" font-size="16" fill="#111">Y06</text>
<text transform="translate(108.80,400.8) rotate(90)" font-size="16" fill="#111">Y07</text>
<text transform="translate(135.60,400.8) rotate(90)" font-size="16" fill="#111">Y15</text>
<text transform="translate(162.40,400.8) rotate(90)" font-size="16" fill="#111">Y16</text>
<text transform="translate(189.20,400.8) rotate(90)" font-size="16" fill="#111">Y26</text>
<text transform="translate(217.30,400.8) rotate(90)" font-size="16" fill="#111">YTK</text>
<text transform="translate(246.10,400.8) rotate(90)" font-size="16" fill="#111">YYZ</text>
<defs><linearGradient id="cb" x1="0" y1="0" x2="0" y2="1"><stop offset="0" stop-color="#D73027"/><stop offset="0.1667" stop-color="#F08C5A"/><stop offset="0.3333" stop-color="#F2D98A"/><stop offset="0.5" stop-color="#F0F7BE"/><stop offset="0.6667" stop-color="#E0F1F4"/><stop offset="0.8333" stop-color="#93BEDA"/><stop offset="1" stop-color="#4A74B2"/></linearGradient></defs>
<rect x="300.4" y="31.6" width="6.9" height="116.1" fill="url(#cb)"/>
<text x="310.4" y="34.90" font-size="8.3" fill="#2a2a2a">0.3</text>
<text x="310.4" y="54.25" font-size="8.3" fill="#2a2a2a">0.2</text>
<text x="310.4" y="73.60" font-size="8.3" fill="#2a2a2a">0.1</text>
<text x="310.4" y="92.95" font-size="8.3" fill="#2a2a2a">0</text>
<text x="310.4" y="112.30" font-size="8.3" fill="#2a2a2a">-0.1</text>
<text x="310.4" y="131.65" font-size="8.3" fill="#2a2a2a">-0.2</text>
<text x="310.4" y="151.00" font-size="8.3" fill="#2a2a2a">-0.3</text>
<text x="327.6" y="37.7" font-size="8" font-weight="bold" fill="#1a1a1a">Group</text>
<rect x="327.6" y="39.8" width="10" height="11" fill="#D65F4F" stroke="#3a3a3a" stroke-width="0.7"/>
<rect x="327.6" y="50.8" width="10" height="11.2" fill="#5F8FA8" stroke="#3a3a3a" stroke-width="0.7"/>
<text x="339.9" y="48.2" font-size="8.1" fill="#2a2a2a" textLength="18.4" lengthAdjust="spacingAndGlyphs">HFRS</text>
<text x="339.9" y="59.4" font-size="8.1" fill="#2a2a2a" textLength="51.5" lengthAdjust="spacingAndGlyphs">normal control</text>
<text x="401.00" y="11.80" font-size="14.6" fill="#111">B.</text>
<text x="488.90" y="12.40" font-size="14.2" fill="#111" textLength="94.6" lengthAdjust="spacingAndGlyphs">Gate on MAIT</text>
<text x="397.00" y="80.70" font-size="15.6" fill="#111" textLength="20.8" lengthAdjust="spacingAndGlyphs">NC</text>
<text x="390.70" y="154.40" font-size="15.4" fill="#111" textLength="40.6" lengthAdjust="spacingAndGlyphs">HFRS</text>
<polygon points="437.00,128.40 534.50,128.40 535.20,108.55 535.90,128.40 536.30,128.40 537.00,108.55 537.70,128.40 539.80,128.40 540.50,108.55 541.20,128.40 543.50,128.40 544.20,88.70 544.90,128.40 546.80,128.40 547.50,108.55 548.20,128.40 548.50,128.40 549.20,68.85 550.40,88.70 551.60,29.15 552.90,88.70 554.20,108.55 555.60,88.70 556.30,128.40 556.70,128.40 557.40,29.15 558.70,88.70 559.40,128.40 559.80,128.40 560.50,68.85 561.50,88.70 562.40,68.85 563.40,88.70 564.40,68.85 565.50,68.85 566.80,88.70 568.00,108.55 568.70,128.40 568.90,128.40 569.60,108.55 570.30,128.40 575.90,128.40 576.60,88.70 577.30,128.40 580.60,128.40 581.30,108.55 582.00,128.40 582.30,128.40 583.00,108.55 583.70,128.40 584.10,128.40 584.80,108.55 585.50,128.40 590.00,128.40 590.70,108.55 591.40,128.40 591.80,128.40 592.50,108.55 594.00,108.55 594.70,128.40 596.30,128.40 597.00,108.55 597.70,128.40 601.30,128.40 602.00,108.55 603.40,108.55 604.10,128.40 607.30,128.40 608.00,108.55 608.70,128.40 611.30,128.40 612.00,108.55 613.50,108.55 614.80,108.55 615.50,128.40 625.60,128.40" fill="#9C9CFF" fill-opacity="0.22" stroke="none"/>
<polyline points="534.50,128.40 535.20,108.55 535.90,128.40" fill="none" stroke="#1010FF" stroke-width="1.5" stroke-linejoin="round"/>
<polyline points="536.30,128.40 537.00,108.55 537.70,128.40" fill="none" stroke="#1010FF" stroke-width="1.5" stroke-linejoin="round"/>
<polyline points="539.80,128.40 540.50,108.55 541.20,128.40" fill="none" stroke="#1010FF" stroke-width="1.5" stroke-linejoin="round"/>
<polyline points="543.50,128.40 544.20,88.70 544.90,128.40" fill="none" stroke="#1010FF" stroke-width="1.5" stroke-linejoin="round"/>
<polyline points="546.80,128.40 547.50,108.55 548.20,128.40" fill="none" stroke="#1010FF" stroke-width="1.5" stroke-linejoin="round"/>
<polyline points="548.50,128.40 549.20,68.85 550.40,88.70 551.60,29.15 552.90,88.70 554.20,108.55 555.60,88.70 556.30,128.40" fill="none" stroke="#1010FF" stroke-width="1.5" stroke-linejoin="round"/>
<polyline points="556.70,128.40 557.40,29.15 558.70,88.70 559.40,128.40" fill="none" stroke="#1010FF" stroke-width="1.5" stroke-linejoin="round"/>
<polyline points="559.80,128.40 560.50,68.85 561.50,88.70 562.40,68.85 563.40,88.70 564.40,68.85 565.50,68.85 566.80,88.70 568.00,108.55 568.70,128.40" fill="none" stroke="#1010FF" stroke-width="1.5" stroke-linejoin="round"/>
<polyline points="568.90,128.40 569.60,108.55 570.30,128.40" fill="none" stroke="#1010FF" stroke-width="1.5" stroke-linejoin="round"/>
<polyline points="575.90,128.40 576.60,88.70 577.30,128.40" fill="none" stroke="#1010FF" stroke-width="1.5" stroke-linejoin="round"/>
<polyline points="580.60,128.40 581.30,108.55 582.00,128.40" fill="none" stroke="#1010FF" stroke-width="1.5" stroke-linejoin="round"/>
<polyline points="582.30,128.40 583.00,108.55 583.70,128.40" fill="none" stroke="#1010FF" stroke-width="1.5" stroke-linejoin="round"/>
<polyline points="584.10,128.40 584.80,108.55 585.50,128.40" fill="none" stroke="#1010FF" stroke-width="1.5" stroke-linejoin="round"/>
<polyline points="590.00,128.40 590.70,108.55 591.40,128.40" fill="none" stroke="#1010FF" stroke-width="1.5" stroke-linejoin="round"/>
<polyline points="591.80,128.40 592.50,108.55 594.00,108.55 594.70,128.40" fill="none" stroke="#1010FF" stroke-width="1.5" stroke-linejoin="round"/>
<polyline points="596.30,128.40 597.00,108.55 597.70,128.40" fill="none" stroke="#1010FF" stroke-width="1.5" stroke-linejoin="round"/>
<polyline points="601.30,128.40 602.00,108.55 603.40,108.55 604.10,128.40" fill="none" stroke="#1010FF" stroke-width="1.5" stroke-linejoin="round"/>
<polyline points="607.30,128.40 608.00,108.55 608.70,128.40" fill="none" stroke="#1010FF" stroke-width="1.5" stroke-linejoin="round"/>
<polyline points="611.30,128.40 612.00,108.55 613.50,108.55 614.80,108.55 615.50,128.40" fill="none" stroke="#1010FF" stroke-width="1.5" stroke-linejoin="round"/>
<polygon points="437.00,179.20 437.60,179.20 438.21,179.20 438.81,179.20 439.41,179.20 440.01,179.20 440.62,179.20 441.22,179.20 441.82,179.20 442.42,179.20 443.03,179.20 443.63,179.20 444.23,179.20 444.84,179.20 445.44,179.20 446.04,179.20 446.64,179.20 447.25,179.20 447.85,179.20 448.45,179.20 449.05,179.20 449.66,179.20 450.26,179.20 450.86,179.20 451.47,179.20 452.07,179.20 452.67,179.20 453.27,179.20 453.88,179.20 454.48,179.20 455.08,179.20 455.68,179.20 456.29,179.20 456.89,179.20 457.49,179.20 458.10,179.20 458.70,179.20 459.30,179.20 459.90,179.20 460.51,179.20 461.11,179.20 461.71,179.20 462.32,179.20 462.92,179.20 463.52,179.20 464.12,179.20 464.73,179.20 465.33,179.20 465.93,179.20 466.53,179.20 467.14,179.20 467.74,179.20 468.34,179.20 468.95,179.20 469.55,179.20 470.15,179.20 470.75,179.20 471.36,179.20 471.96,179.20 472.56,179.20 473.16,179.20 473.77,179.20 474.37,179.20 474.97,179.20 475.58,179.20 476.18,179.20 476.78,179.20 477.38,179.20 477.99,179.20 478.59,179.20 479.19,179.20 479.79,179.20 480.40,179.20 481.00,179.20 481.60,179.20 482.21,179.20 482.81,179.20 483.41,179.20 484.01,179.20 484.62,179.20 485.22,179.20 485.82,179.20 486.42,179.20 487.03,179.20 487.63,179.20 488.23,179.20 488.84,179.20 489.44,179.20 490.04,179.20 490.64,179.20 491.25,179.20 491.85,179.20 492.45,179.20 493.05,179.20 493.66,179.20 494.26,179.20 494.86,179.20 495.47,179.20 496.07,179.20 496.67,179.20 497.27,179.20 497.88,179.20 498.48,179.20 499.08,179.20 499.68,179.20 500.29,179.20 500.89,179.20 501.49,179.20 502.10,179.20 502.70,179.20 503.30,179.20 503.90,179.20 504.51,179.20 505.11,179.20 505.71,179.20 506.32,179.20 506.92,179.20 507.52,179.20 508.12,179.20 508.73,179.20 509.33,179.20 509.93,179.20 510.53,179.20 511.14,179.20 511.74,179.20 512.34,179.20 512.95,179.20 513.55,179.20 514.15,179.20 514.75,179.20 515.36,179.20 515.96,179.20 516.56,179.20 517.16,179.20 517.77,179.20 518.37,179.20 518.97,179.20 519.58,179.20 520.18,179.20 520.78,179.20 521.38,179.20 521.99,179.20 522.59,179.20 523.19,179.20 523.79,179.20 524.40,179.20 525.00,179.20 525.70,179.20 526.40,179.20 527.20,170.20 528.00,179.20 528.64,179.20 529.28,179.20 529.92,179.20 530.56,179.20 531.20,179.20 531.90,170.20 532.70,179.20 533.35,179.20 534.00,179.20 534.65,179.20 535.30,179.20 536.00,161.20 537.00,176.20 537.75,174.87 538.50,173.20 539.10,166.63 539.70,161.20 540.50,171.20 541.10,161.79 541.70,161.20 542.50,175.20 543.30,171.20 544.10,151.20 544.70,169.20 545.30,132.20 545.90,146.62 546.50,159.20 547.10,155.55 547.70,152.20 548.70,164.20 549.70,109.20 550.50,149.20 551.30,143.20 551.90,155.39 552.50,170.70 553.25,164.81 554.00,149.20 554.65,140.33 555.30,132.20 555.90,111.86 556.50,104.20 557.50,124.20 558.50,81.20 559.25,81.20 560.00,94.20 560.65,136.99 561.30,139.20 561.95,158.30 562.60,169.60 563.80,109.20 564.40,137.17 565.00,124.20 566.00,99.20 567.00,119.20 567.60,104.20 568.20,104.20 569.00,118.58 569.80,149.20 570.60,154.81 571.40,132.20 572.40,149.20 573.40,178.20 574.40,149.20 575.40,134.20 576.50,149.20 577.15,143.20 577.80,143.20 578.40,141.20 579.00,141.20 579.60,130.34 580.20,130.20 581.20,139.20 582.30,109.20 583.40,101.20 584.50,124.20 585.50,119.20 586.60,130.20 587.45,113.38 588.30,107.70 589.10,150.05 589.90,170.40 590.60,161.51 591.30,130.20 592.15,113.49 593.00,99.70 593.60,124.31 594.20,89.20 594.85,130.31 595.50,139.20 596.25,155.39 597.00,159.20 597.75,161.10 598.50,141.20 599.40,131.61 600.30,119.20 600.90,132.53 601.50,141.20 602.25,144.17 603.00,162.20 603.75,161.43 604.50,161.20 605.23,155.47 605.97,154.54 606.70,151.20 607.35,154.34 608.00,163.20 608.67,160.37 609.33,160.28 610.00,152.70 610.75,165.95 611.50,179.20 612.12,177.45 612.75,175.70 613.38,173.95 614.00,172.20 614.75,175.70 615.50,179.20 616.14,179.20 616.79,179.20 617.43,179.20 618.07,179.20 618.71,179.20 619.36,179.20 620.00,179.20 620.60,175.70 621.20,172.20 621.85,175.70 622.50,179.20 623.50,176.20 624.40,171.20 625.30,179.20 625.3,179.2 437,179.2" fill="#F08A8A" fill-opacity="0.85" stroke="none"/>
<line x1="437" y1="179.9" x2="625" y2="179.9" stroke="#F6A5A5" stroke-width="2"/>
<polyline points="437.00,179.20 437.60,179.20 438.21,179.20 438.81,179.20 439.41,179.20 440.01,179.20 440.62,179.20 441.22,179.20 441.82,179.20 442.42,179.20 443.03,179.20 443.63,179.20 444.23,179.20 444.84,179.20 445.44,179.20 446.04,179.20 446.64,179.20 447.25,179.20 447.85,179.20 448.45,179.20 449.05,179.20 449.66,179.20 450.26,179.20 450.86,179.20 451.47,179.20 452.07,179.20 452.67,179.20 453.27,179.20 453.88,179.20 454.48,179.20 455.08,179.20 455.68,179.20 456.29,179.20 456.89,179.20 457.49,179.20 458.10,179.20 458.70,179.20 459.30,179.20 459.90,179.20 460.51,179.20 461.11,179.20 461.71,179.20 462.32,179.20 462.92,179.20 463.52,179.20 464.12,179.20 464.73,179.20 465.33,179.20 465.93,179.20 466.53,179.20 467.14,179.20 467.74,179.20 468.34,179.20 468.95,179.20 469.55,179.20 470.15,179.20 470.75,179.20 471.36,179.20 471.96,179.20 472.56,179.20 473.16,179.20 473.77,179.20 474.37,179.20 474.97,179.20 475.58,179.20 476.18,179.20 476.78,179.20 477.38,179.20 477.99,179.20 478.59,179.20 479.19,179.20 479.79,179.20 480.40,179.20 481.00,179.20 481.60,179.20 482.21,179.20 482.81,179.20 483.41,179.20 484.01,179.20 484.62,179.20 485.22,179.20 485.82,179.20 486.42,179.20 487.03,179.20 487.63,179.20 488.23,179.20 488.84,179.20 489.44,179.20 490.04,179.20 490.64,179.20 491.25,179.20 491.85,179.20 492.45,179.20 493.05,179.20 493.66,179.20 494.26,179.20 494.86,179.20 495.47,179.20 496.07,179.20 496.67,179.20 497.27,179.20 497.88,179.20 498.48,179.20 499.08,179.20 499.68,179.20 500.29,179.20 500.89,179.20 501.49,179.20 502.10,179.20 502.70,179.20 503.30,179.20 503.90,179.20 504.51,179.20 505.11,179.20 505.71,179.20 506.32,179.20 506.92,179.20 507.52,179.20 508.12,179.20 508.73,179.20 509.33,179.20 509.93,179.20 510.53,179.20 511.14,179.20 511.74,179.20 512.34,179.20 512.95,179.20 513.55,179.20 514.15,179.20 514.75,179.20 515.36,179.20 515.96,179.20 516.56,179.20 517.16,179.20 517.77,179.20 518.37,179.20 518.97,179.20 519.58,179.20 520.18,179.20 520.78,179.20 521.38,179.20 521.99,179.20 522.59,179.20 523.19,179.20 523.79,179.20 524.40,179.20 525.00,179.20 525.70,179.20 526.40,179.20 527.20,170.20 528.00,179.20 528.64,179.20 529.28,179.20 529.92,179.20 530.56,179.20 531.20,179.20 531.90,170.20 532.70,179.20 533.35,179.20 534.00,179.20 534.65,179.20 535.30,179.20 536.00,161.20 537.00,176.20 537.75,174.87 538.50,173.20 539.10,166.63 539.70,161.20 540.50,171.20 541.10,161.79 541.70,161.20 542.50,175.20 543.30,171.20 544.10,151.20 544.70,169.20 545.30,132.20 545.90,146.62 546.50,159.20 547.10,155.55 547.70,152.20 548.70,164.20 549.70,109.20 550.50,149.20 551.30,143.20 551.90,155.39 552.50,170.70 553.25,164.81 554.00,149.20 554.65,140.33 555.30,132.20 555.90,111.86 556.50,104.20 557.50,124.20 558.50,81.20 559.25,81.20 560.00,94.20 560.65,136.99 561.30,139.20 561.95,158.30 562.60,169.60 563.80,109.20 564.40,137.17 565.00,124.20 566.00,99.20 567.00,119.20 567.60,104.20 568.20,104.20 569.00,118.58 569.80,149.20 570.60,154.81 571.40,132.20 572.40,149.20 573.40,178.20 574.40,149.20 575.40,134.20 576.50,149.20 577.15,143.20 577.80,143.20 578.40,141.20 579.00,141.20 579.60,130.34 580.20,130.20 581.20,139.20 582.30,109.20 583.40,101.20 584.50,124.20 585.50,119.20 586.60,130.20 587.45,113.38 588.30,107.70 589.10,150.05 589.90,170.40 590.60,161.51 591.30,130.20 592.15,113.49 593.00,99.70 593.60,124.31 594.20,89.20 594.85,130.31 595.50,139.20 596.25,155.39 597.00,159.20 597.75,161.10 598.50,141.20 599.40,131.61 600.30,119.20 600.90,132.53 601.50,141.20 602.25,144.17 603.00,162.20 603.75,161.43 604.50,161.20 605.23,155.47 605.97,154.54 606.70,151.20 607.35,154.34 608.00,163.20 608.67,160.37 609.33,160.28 610.00,152.70 610.75,165.95 611.50,179.20 612.12,177.45 612.75,175.70 613.38,173.95 614.00,172.20 614.75,175.70 615.50,179.20 616.14,179.20 616.79,179.20 617.43,179.20 618.07,179.20 618.71,179.20 619.36,179.20 620.00,179.20 620.60,175.70 621.20,172.20 621.85,175.70 622.50,179.20 623.50,176.20 624.40,171.20 625.30,179.20" fill="none" stroke="#FF1010" stroke-width="1.2" stroke-linejoin="round"/>
<line x1="437" y1="128.4" x2="625.6" y2="128.4" stroke="#2020FF" stroke-width="1"/>
<rect x="436.8" y="21.3" width="188.80" height="158.30" fill="none" stroke="#6a6a6a" stroke-width="1"/>
<line x1="437.2" y1="179.6" x2="437.2" y2="182.6" stroke="#444" stroke-width="1"/>
<line x1="454.60" y1="179.6" x2="454.60" y2="181.4" stroke="#555" stroke-width="0.8"/>
<line x1="464.78" y1="179.6" x2="464.78" y2="181.4" stroke="#555" stroke-width="0.8"/>
<line x1="472.00" y1="179.6" x2="472.00" y2="181.4" stroke="#555" stroke-width="0.8"/>
<line x1="477.60" y1="179.6" x2="477.60" y2="181.4" stroke="#555" stroke-width="0.8"/>
<line x1="482.18" y1="179.6" x2="482.18" y2="181.4" stroke="#555" stroke-width="0.8"/>
<line x1="486.05" y1="179.6" x2="486.05" y2="181.4" stroke="#555" stroke-width="0.8"/>
<line x1="489.40" y1="179.6" x2="489.40" y2="181.4" stroke="#555" stroke-width="0.8"/>
<line x1="492.36" y1="179.6" x2="492.36" y2="181.4" stroke="#555" stroke-width="0.8"/>
<line x1="495.0" y1="179.6" x2="495.0" y2="182.6" stroke="#444" stroke-width="1"/>
<line x1="513.03" y1="179.6" x2="513.03" y2="181.4" stroke="#555" stroke-width="0.8"/>
<line x1="523.58" y1="179.6" x2="523.58" y2="181.4" stroke="#555" stroke-width="0.8"/>
<line x1="531.06" y1="179.6" x2="531.06" y2="181.4" stroke="#555" stroke-width="0.8"/>
<line x1="536.87" y1="179.6" x2="536.87" y2="181.4" stroke="#555" stroke-width="0.8"/>
<line x1="541.61" y1="179.6" x2="541.61" y2="181.4" stroke="#555" stroke-width="0.8"/>
<line x1="545.62" y1="179.6" x2="545.62" y2="181.4" stroke="#555" stroke-width="0.8"/>
<line x1="549.10" y1="179.6" x2="549.10" y2="181.4" stroke="#555" stroke-width="0.8"/>
<line x1="552.16" y1="179.6" x2="552.16" y2="181.4" stroke="#555" stroke-width="0.8"/>
<line x1="554.9" y1="179.6" x2="554.9" y2="182.6" stroke="#444" stroke-width="1"/>
<line x1="572.63" y1="179.6" x2="572.63" y2="181.4" stroke="#555" stroke-width="0.8"/>
<line x1="583.00" y1="179.6" x2="583.00" y2="181.4" stroke="#555" stroke-width="0.8"/>
<line x1="590.36" y1="179.6" x2="590.36" y2="181.4" stroke="#555" stroke-width="0.8"/>
<line x1="596.07" y1="179.6" x2="596.07" y2="181.4" stroke="#555" stroke-width="0.8"/>
<line x1="600.73" y1="179.6" x2="600.73" y2="181.4" stroke="#555" stroke-width="0.8"/>
<line x1="604.68" y1="179.6" x2="604.68" y2="181.4" stroke="#555" stroke-width="0.8"/>
<line x1="608.09" y1="179.6" x2="608.09" y2="181.4" stroke="#555" stroke-width="0.8"/>
<line x1="611.10" y1="179.6" x2="611.10" y2="181.4" stroke="#555" stroke-width="0.8"/>
<line x1="613.8" y1="179.6" x2="613.8" y2="182.6" stroke="#444" stroke-width="1"/>
<text x="441.00" y="192.2" font-size="6.6" fill="#333">10<tspan dy="-4" font-size="5">2</tspan></text>
<text x="498.80" y="192.2" font-size="6.6" fill="#333">10<tspan dy="-4" font-size="5">3</tspan></text>
<text x="558.70" y="192.2" font-size="6.6" fill="#333">10<tspan dy="-4" font-size="5">4</tspan></text>
<text x="617.60" y="192.2" font-size="6.6" fill="#333">10<tspan dy="-4" font-size="5">5</tspan></text>
<line x1="443.6" y1="200.9" x2="500.7" y2="200.9" stroke="#000" stroke-width="2"/>
<text x="511.90" y="210.10" font-size="15" fill="#111" textLength="48.3" lengthAdjust="spacingAndGlyphs">NLRP3</text>
<line x1="581" y1="201" x2="603" y2="201" stroke="#000" stroke-width="2"/>
<polygon points="601.5,197.3 609.6,201 601.5,204.7" fill="#000"/>
<text x="13.30" y="478.70" font-size="13.8" fill="#111">D.</text>
<text x="108.20" y="476.90" font-size="14.6" fill="#111" textLength="94.6" lengthAdjust="spacingAndGlyphs">Gate on MAIT</text>
<text x="74.30" y="502.50" font-size="15.6" fill="#111" textLength="21" lengthAdjust="spacingAndGlyphs">NC</text>
<text x="196.40" y="500.80" font-size="15" fill="#111" textLength="40.8" lengthAdjust="spacingAndGlyphs">HFRS</text>
<polygon points="27.00,626.00 27.62,626.00 28.24,626.00 28.86,626.00 29.48,626.00 30.10,626.00 30.72,626.00 31.34,626.00 31.96,626.00 32.58,626.00 33.20,626.00 33.82,626.00 34.44,626.00 35.06,626.00 35.68,626.00 36.30,626.00 36.92,626.00 37.54,626.00 38.16,626.00 38.78,626.00 39.40,626.00 40.02,626.00 40.64,626.00 41.26,626.00 41.88,626.00 42.50,626.00 43.12,626.00 43.74,626.00 44.36,626.00 44.98,626.00 45.60,626.00 46.22,626.00 46.84,626.00 47.46,626.00 48.08,626.00 48.70,626.00 49.32,626.00 49.94,626.00 50.56,626.00 51.18,626.00 51.80,626.00 52.42,626.00 53.04,626.00 53.66,626.00 54.28,626.00 54.90,626.00 55.52,626.00 56.14,618.32 56.76,626.00 57.38,626.00 58.00,626.00 58.62,626.00 59.24,626.00 59.86,626.00 60.48,618.32 61.10,626.00 61.72,626.00 62.34,626.00 62.96,626.00 63.58,618.32 64.20,626.00 64.82,618.32 65.44,610.64 66.06,602.96 66.68,610.64 67.30,602.96 67.92,595.28 68.54,564.56 69.16,564.56 69.78,564.56 70.40,549.20 71.02,520.02 71.64,533.84 72.26,524.62 72.88,556.88 73.50,587.60 74.12,579.92 74.74,610.64 75.36,587.60 75.98,618.32 76.60,610.64 77.22,602.96 77.84,626.00 78.46,626.00 79.08,610.64 79.70,618.32 80.32,618.32 80.94,602.96 81.56,602.96 82.18,602.96 82.80,610.64 83.42,626.00 84.04,610.64 84.66,610.64 85.28,610.64 85.90,626.00 86.52,618.32 87.14,618.32 87.76,602.96 88.38,626.00 89.00,618.32 89.62,626.00 90.24,618.32 90.86,626.00 91.48,626.00 92.10,618.32 92.72,610.64 93.34,618.32 93.96,610.64 94.58,610.64 95.20,618.32 95.82,626.00 96.44,626.00 97.06,610.64 97.68,626.00 98.30,626.00 98.92,618.32 99.54,618.32 100.16,626.00 100.78,618.32 101.40,618.32 102.02,610.64 102.64,626.00 103.26,610.64 103.88,626.00 104.50,618.32 105.12,626.00 105.74,626.00 106.36,626.00 106.98,618.32 107.60,610.64 108.22,595.28 108.84,596.05 109.46,626.00 110.08,626.00 110.70,618.32 111.32,626.00 111.94,626.00 112.56,618.32 113.18,626.00 113.80,626.00 114.42,618.32 115.04,618.32 115.66,626.00 116.28,610.64 116.90,626.00 117.52,626.00 118.14,618.32 118.76,610.64 119.38,602.96 120.00,618.32 120.62,610.64 121.24,610.64 121.86,587.60 122.48,595.28 123.10,602.96 123.72,595.28 124.34,595.28 124.96,579.92 125.58,579.92 126.20,602.96 126.82,610.64 127.44,626.00 128.06,626.00 128.68,626.00 129.30,626.00 129.92,626.00 130.54,626.00 131.16,626.00 131.78,626.00 132.40,626.00 133.02,626.00 133.64,626.00 134.26,626.00 134.88,626.00 135.50,626.00 136.12,626.00 136.74,626.00 137.36,626.00 137.98,626.00 138.60,626.00 139.22,626.00 139.84,626.00 140.46,626.00 141.08,626.00 141.70,626.00 142.32,626.00 142.94,626.00 143.56,626.00 144.18,626.00 144.80,626.00 145.42,626.00 146.04,626.00 146.3,626.0 27.0,626.0" fill="#D4D4F7"/>
<polyline points="27.00,626.00 27.62,626.00 28.24,626.00 28.86,626.00 29.48,626.00 30.10,626.00 30.72,626.00 31.34,626.00 31.96,626.00 32.58,626.00 33.20,626.00 33.82,626.00 34.44,626.00 35.06,626.00 35.68,626.00 36.30,626.00 36.92,626.00 37.54,626.00 38.16,626.00 38.78,626.00 39.40,626.00 40.02,626.00 40.64,626.00 41.26,626.00 41.88,626.00 42.50,626.00 43.12,626.00 43.74,626.00 44.36,626.00 44.98,626.00 45.60,626.00 46.22,626.00 46.84,626.00 47.46,626.00 48.08,626.00 48.70,626.00 49.32,626.00 49.94,626.00 50.56,626.00 51.18,626.00 51.80,626.00 52.42,626.00 53.04,626.00 53.66,626.00 54.28,626.00 54.90,626.00 55.52,626.00 56.14,618.32 56.76,626.00 57.38,626.00 58.00,626.00 58.62,626.00 59.24,626.00 59.86,626.00 60.48,618.32 61.10,626.00 61.72,626.00 62.34,626.00 62.96,626.00 63.58,618.32 64.20,626.00 64.82,618.32 65.44,610.64 66.06,602.96 66.68,610.64 67.30,602.96 67.92,595.28 68.54,564.56 69.16,564.56 69.78,564.56 70.40,549.20 71.02,520.02 71.64,533.84 72.26,524.62 72.88,556.88 73.50,587.60 74.12,579.92 74.74,610.64 75.36,587.60 75.98,618.32 76.60,610.64 77.22,602.96 77.84,626.00 78.46,626.00 79.08,610.64 79.70,618.32 80.32,618.32 80.94,602.96 81.56,602.96 82.18,602.96 82.80,610.64 83.42,626.00 84.04,610.64 84.66,610.64 85.28,610.64 85.90,626.00 86.52,618.32 87.14,618.32 87.76,602.96 88.38,626.00 89.00,618.32 89.62,626.00 90.24,618.32 90.86,626.00 91.48,626.00 92.10,618.32 92.72,610.64 93.34,618.32 93.96,610.64 94.58,610.64 95.20,618.32 95.82,626.00 96.44,626.00 97.06,610.64 97.68,626.00 98.30,626.00 98.92,618.32 99.54,618.32 100.16,626.00 100.78,618.32 101.40,618.32 102.02,610.64 102.64,626.00 103.26,610.64 103.88,626.00 104.50,618.32 105.12,626.00 105.74,626.00 106.36,626.00 106.98,618.32 107.60,610.64 108.22,595.28 108.84,596.05 109.46,626.00 110.08,626.00 110.70,618.32 111.32,626.00 111.94,626.00 112.56,618.32 113.18,626.00 113.80,626.00 114.42,618.32 115.04,618.32 115.66,626.00 116.28,610.64 116.90,626.00 117.52,626.00 118.14,618.32 118.76,610.64 119.38,602.96 120.00,618.32 120.62,610.64 121.24,610.64 121.86,587.60 122.48,595.28 123.10,602.96 123.72,595.28 124.34,595.28 124.96,579.92 125.58,579.92 126.20,602.96 126.82,610.64 127.44,626.00 128.06,626.00 128.68,626.00 129.30,626.00 129.92,626.00 130.54,626.00 131.16,626.00 131.78,626.00 132.40,626.00 133.02,626.00 133.64,626.00 134.26,626.00 134.88,626.00 135.50,626.00 136.12,626.00 136.74,626.00 137.36,626.00 137.98,626.00 138.60,626.00 139.22,626.00 139.84,626.00 140.46,626.00 141.08,626.00 141.70,626.00 142.32,626.00 142.94,626.00 143.56,626.00 144.18,626.00 144.80,626.00 145.42,626.00 146.04,626.00" fill="none" stroke="#1A1AFF" stroke-width="1.45" stroke-linejoin="round"/>
<path d="M26.5 626.7V511.2H146.8V626.7" fill="none" stroke="#222" stroke-width="1.3"/>
<line x1="25.9" y1="626.7" x2="147.4" y2="626.7" stroke="#111" stroke-width="2"/>
<line x1="26.50" y1="626.7" x2="26.50" y2="630.4" stroke="#111" stroke-width="1.2"/>
<line x1="32.31" y1="626.7" x2="32.31" y2="628.6" stroke="#222" stroke-width="0.8"/>
<line x1="35.71" y1="626.7" x2="35.71" y2="628.6" stroke="#222" stroke-width="0.8"/>
<line x1="38.12" y1="626.7" x2="38.12" y2="628.6" stroke="#222" stroke-width="0.8"/>
<line x1="39.99" y1="626.7" x2="39.99" y2="628.6" stroke="#222" stroke-width="0.8"/>
<line x1="41.52" y1="626.7" x2="41.52" y2="628.6" stroke="#222" stroke-width="0.8"/>
<line x1="42.81" y1="626.7" x2="42.81" y2="628.6" stroke="#222" stroke-width="0.8"/>
<line x1="43.93" y1="626.7" x2="43.93" y2="628.6" stroke="#222" stroke-width="0.8"/>
<line x1="44.92" y1="626.7" x2="44.92" y2="628.6" stroke="#222" stroke-width="0.8"/>
<line x1="45.80" y1="626.7" x2="45.80" y2="630.4" stroke="#111" stroke-width="1.2"/>
<line x1="51.61" y1="626.7" x2="51.61" y2="628.6" stroke="#222" stroke-width="0.8"/>
<line x1="55.01" y1="626.7" x2="55.01" y2="628.6" stroke="#222" stroke-width="0.8"/>
<line x1="57.42" y1="626.7" x2="57.42" y2="628.6" stroke="#222" stroke-width="0.8"/>
<line x1="59.29" y1="626.7" x2="59.29" y2="628.6" stroke="#222" stroke-width="0.8"/>
<line x1="60.82" y1="626.7" x2="60.82" y2="628.6" stroke="#222" stroke-width="0.8"/>
<line x1="62.11" y1="626.7" x2="62.11" y2="628.6" stroke="#222" stroke-width="0.8"/>
<line x1="63.23" y1="626.7" x2="63.23" y2="628.6" stroke="#222" stroke-width="0.8"/>
<line x1="64.22" y1="626.7" x2="64.22" y2="628.6" stroke="#222" stroke-width="0.8"/>
<line x1="65.10" y1="626.7" x2="65.10" y2="630.4" stroke="#111" stroke-width="1.2"/>
<line x1="70.91" y1="626.7" x2="70.91" y2="628.6" stroke="#222" stroke-width="0.8"/>
<line x1="74.31" y1="626.7" x2="74.31" y2="628.6" stroke="#222" stroke-width="0.8"/>
<line x1="76.72" y1="626.7" x2="76.72" y2="628.6" stroke="#222" stroke-width="0.8"/>
<line x1="78.59" y1="626.7" x2="78.59" y2="628.6" stroke="#222" stroke-width="0.8"/>
<line x1="80.12" y1="626.7" x2="80.12" y2="628.6" stroke="#222" stroke-width="0.8"/>
<line x1="81.41" y1="626.7" x2="81.41" y2="628.6" stroke="#222" stroke-width="0.8"/>
<line x1="82.53" y1="626.7" x2="82.53" y2="628.6" stroke="#222" stroke-width="0.8"/>
<line x1="83.52" y1="626.7" x2="83.52" y2="628.6" stroke="#222" stroke-width="0.8"/>
<line x1="84.40" y1="626.7" x2="84.40" y2="630.4" stroke="#111" stroke-width="1.2"/>
<line x1="90.21" y1="626.7" x2="90.21" y2="628.6" stroke="#222" stroke-width="0.8"/>
<line x1="93.61" y1="626.7" x2="93.61" y2="628.6" stroke="#222" stroke-width="0.8"/>
<line x1="96.02" y1="626.7" x2="96.02" y2="628.6" stroke="#222" stroke-width="0.8"/>
<line x1="97.89" y1="626.7" x2="97.89" y2="628.6" stroke="#222" stroke-width="0.8"/>
<line x1="99.42" y1="626.7" x2="99.42" y2="628.6" stroke="#222" stroke-width="0.8"/>
<line x1="100.71" y1="626.7" x2="100.71" y2="628.6" stroke="#222" stroke-width="0.8"/>
<line x1="101.83" y1="626.7" x2="101.83" y2="628.6" stroke="#222" stroke-width="0.8"/>
<line x1="102.82" y1="626.7" x2="102.82" y2="628.6" stroke="#222" stroke-width="0.8"/>
<line x1="103.70" y1="626.7" x2="103.70" y2="630.4" stroke="#111" stroke-width="1.2"/>
<line x1="109.51" y1="626.7" x2="109.51" y2="628.6" stroke="#222" stroke-width="0.8"/>
<line x1="112.91" y1="626.7" x2="112.91" y2="628.6" stroke="#222" stroke-width="0.8"/>
<line x1="115.32" y1="626.7" x2="115.32" y2="628.6" stroke="#222" stroke-width="0.8"/>
<line x1="117.19" y1="626.7" x2="117.19" y2="628.6" stroke="#222" stroke-width="0.8"/>
<line x1="118.72" y1="626.7" x2="118.72" y2="628.6" stroke="#222" stroke-width="0.8"/>
<line x1="120.01" y1="626.7" x2="120.01" y2="628.6" stroke="#222" stroke-width="0.8"/>
<line x1="121.13" y1="626.7" x2="121.13" y2="628.6" stroke="#222" stroke-width="0.8"/>
<line x1="122.12" y1="626.7" x2="122.12" y2="628.6" stroke="#222" stroke-width="0.8"/>
<line x1="123.00" y1="626.7" x2="123.00" y2="630.4" stroke="#111" stroke-width="1.2"/>
<line x1="128.81" y1="626.7" x2="128.81" y2="628.6" stroke="#222" stroke-width="0.8"/>
<line x1="132.21" y1="626.7" x2="132.21" y2="628.6" stroke="#222" stroke-width="0.8"/>
<line x1="134.62" y1="626.7" x2="134.62" y2="628.6" stroke="#222" stroke-width="0.8"/>
<line x1="136.49" y1="626.7" x2="136.49" y2="628.6" stroke="#222" stroke-width="0.8"/>
<line x1="138.02" y1="626.7" x2="138.02" y2="628.6" stroke="#222" stroke-width="0.8"/>
<line x1="139.31" y1="626.7" x2="139.31" y2="628.6" stroke="#222" stroke-width="0.8"/>
<line x1="140.43" y1="626.7" x2="140.43" y2="628.6" stroke="#222" stroke-width="0.8"/>
<line x1="141.42" y1="626.7" x2="141.42" y2="628.6" stroke="#222" stroke-width="0.8"/>
<line x1="142.30" y1="626.7" x2="142.30" y2="630.4" stroke="#111" stroke-width="1.2"/>
<line x1="22.60" y1="626.70" x2="26.5" y2="626.70" stroke="#222" stroke-width="1"/>
<line x1="24.50" y1="619.00" x2="26.5" y2="619.00" stroke="#222" stroke-width="1"/>
<line x1="24.50" y1="611.30" x2="26.5" y2="611.30" stroke="#222" stroke-width="1"/>
<line x1="24.50" y1="603.60" x2="26.5" y2="603.60" stroke="#222" stroke-width="1"/>
<line x1="24.50" y1="595.90" x2="26.5" y2="595.90" stroke="#222" stroke-width="1"/>
<line x1="22.60" y1="588.20" x2="26.5" y2="588.20" stroke="#222" stroke-width="1"/>
<line x1="24.50" y1="580.50" x2="26.5" y2="580.50" stroke="#222" stroke-width="1"/>
<line x1="24.50" y1="572.80" x2="26.5" y2="572.80" stroke="#222" stroke-width="1"/>
<line x1="24.50" y1="565.10" x2="26.5" y2="565.10" stroke="#222" stroke-width="1"/>
<line x1="24.50" y1="557.40" x2="26.5" y2="557.40" stroke="#222" stroke-width="1"/>
<line x1="22.60" y1="549.70" x2="26.5" y2="549.70" stroke="#222" stroke-width="1"/>
<line x1="24.50" y1="542.00" x2="26.5" y2="542.00" stroke="#222" stroke-width="1"/>
<line x1="24.50" y1="534.30" x2="26.5" y2="534.30" stroke="#222" stroke-width="1"/>
<line x1="24.50" y1="526.60" x2="26.5" y2="526.60" stroke="#222" stroke-width="1"/>
<line x1="24.50" y1="518.90" x2="26.5" y2="518.90" stroke="#222" stroke-width="1"/>
<line x1="22.60" y1="511.20" x2="26.5" y2="511.20" stroke="#222" stroke-width="1"/>
<polygon points="160.70,626.00 161.32,626.00 161.94,626.00 162.56,626.00 163.18,626.00 163.80,626.00 164.42,626.00 165.04,626.00 165.66,626.00 166.28,626.00 166.90,626.00 167.52,626.00 168.14,626.00 168.76,626.00 169.38,626.00 170.00,626.00 170.62,626.00 171.24,626.00 171.86,626.00 172.48,626.00 173.10,626.00 173.72,626.00 174.34,626.00 174.96,626.00 175.58,626.00 176.20,626.00 176.82,626.00 177.44,626.00 178.06,626.00 178.68,626.00 179.30,626.00 179.92,626.00 180.54,626.00 181.16,626.00 181.78,626.00 182.40,626.00 183.02,626.00 183.64,626.00 184.26,626.00 184.88,626.00 185.50,626.00 186.12,626.00 186.74,626.00 187.36,626.00 187.98,626.00 188.60,626.00 189.22,626.00 189.84,626.00 190.46,626.00 191.08,626.00 191.70,626.00 192.32,626.00 192.94,626.00 193.56,626.00 194.18,618.32 194.80,618.32 195.42,626.00 196.04,618.32 196.66,618.32 197.28,626.00 197.90,610.64 198.52,618.32 199.14,595.28 199.76,602.96 200.38,602.96 201.00,587.60 201.62,572.24 202.24,572.24 202.86,533.84 203.48,533.84 204.10,531.54 204.72,556.88 205.34,556.88 205.96,533.84 206.58,549.20 207.20,533.84 207.82,541.52 208.44,564.56 209.06,595.28 209.68,595.28 210.30,572.24 210.92,595.28 211.54,579.92 212.16,579.92 212.78,602.96 213.40,587.60 214.02,587.60 214.64,618.32 215.26,595.28 215.88,595.28 216.50,595.28 217.12,587.60 217.74,595.28 218.36,610.64 218.98,595.28 219.60,595.28 220.22,595.28 220.84,587.60 221.46,587.60 222.08,587.60 222.70,610.64 223.32,587.60 223.94,602.96 224.56,595.28 225.18,602.96 225.80,595.28 226.42,587.60 227.04,572.24 227.66,610.64 228.28,602.96 228.90,572.24 229.52,564.56 230.14,564.56 230.76,595.28 231.38,602.96 232.00,556.88 232.62,564.56 233.24,564.56 233.86,521.55 234.48,518.48 235.10,533.84 235.72,521.55 236.34,526.16 236.96,533.84 237.58,549.20 238.20,556.88 238.82,564.56 239.44,602.96 240.06,572.24 240.68,579.92 241.30,587.60 241.92,618.32 242.54,610.64 243.16,595.28 243.78,618.32 244.40,602.96 245.02,595.28 245.64,618.32 246.26,610.64 246.88,618.32 247.50,610.64 248.12,626.00 248.74,595.28 249.36,610.64 249.98,595.28 250.60,626.00 251.22,610.64 251.84,595.28 252.46,595.28 253.08,626.00 253.70,618.32 254.32,626.00 254.94,626.00 255.56,626.00 256.18,618.32 256.80,626.00 257.42,626.00 258.04,626.00 258.66,626.00 259.28,626.00 259.90,618.32 260.52,626.00 261.14,626.00 261.76,626.00 262.38,626.00 263.00,626.00 263.62,626.00 264.24,626.00 264.86,626.00 265.48,626.00 266.10,626.00 266.72,626.00 267.34,626.00 267.96,626.00 268.58,626.00 269.20,626.00 269.82,626.00 270.44,626.00 271.06,626.00 271.68,626.00 272.30,626.00 272.92,626.00 273.54,626.00 274.16,626.00 274.78,626.00 275.40,626.00 276.02,626.00 276.64,626.00 277.26,626.00 277.88,626.00 278.50,626.00 279.12,626.00 279.3,626.0 160.7,626.0" fill="#D4D4F7"/>
<polyline points="160.70,626.00 161.32,626.00 161.94,626.00 162.56,626.00 163.18,626.00 163.80,626.00 164.42,626.00 165.04,626.00 165.66,626.00 166.28,626.00 166.90,626.00 167.52,626.00 168.14,626.00 168.76,626.00 169.38,626.00 170.00,626.00 170.62,626.00 171.24,626.00 171.86,626.00 172.48,626.00 173.10,626.00 173.72,626.00 174.34,626.00 174.96,626.00 175.58,626.00 176.20,626.00 176.82,626.00 177.44,626.00 178.06,626.00 178.68,626.00 179.30,626.00 179.92,626.00 180.54,626.00 181.16,626.00 181.78,626.00 182.40,626.00 183.02,626.00 183.64,626.00 184.26,626.00 184.88,626.00 185.50,626.00 186.12,626.00 186.74,626.00 187.36,626.00 187.98,626.00 188.60,626.00 189.22,626.00 189.84,626.00 190.46,626.00 191.08,626.00 191.70,626.00 192.32,626.00 192.94,626.00 193.56,626.00 194.18,618.32 194.80,618.32 195.42,626.00 196.04,618.32 196.66,618.32 197.28,626.00 197.90,610.64 198.52,618.32 199.14,595.28 199.76,602.96 200.38,602.96 201.00,587.60 201.62,572.24 202.24,572.24 202.86,533.84 203.48,533.84 204.10,531.54 204.72,556.88 205.34,556.88 205.96,533.84 206.58,549.20 207.20,533.84 207.82,541.52 208.44,564.56 209.06,595.28 209.68,595.28 210.30,572.24 210.92,595.28 211.54,579.92 212.16,579.92 212.78,602.96 213.40,587.60 214.02,587.60 214.64,618.32 215.26,595.28 215.88,595.28 216.50,595.28 217.12,587.60 217.74,595.28 218.36,610.64 218.98,595.28 219.60,595.28 220.22,595.28 220.84,587.60 221.46,587.60 222.08,587.60 222.70,610.64 223.32,587.60 223.94,602.96 224.56,595.28 225.18,602.96 225.80,595.28 226.42,587.60 227.04,572.24 227.66,610.64 228.28,602.96 228.90,572.24 229.52,564.56 230.14,564.56 230.76,595.28 231.38,602.96 232.00,556.88 232.62,564.56 233.24,564.56 233.86,521.55 234.48,518.48 235.10,533.84 235.72,521.55 236.34,526.16 236.96,533.84 237.58,549.20 238.20,556.88 238.82,564.56 239.44,602.96 240.06,572.24 240.68,579.92 241.30,587.60 241.92,618.32 242.54,610.64 243.16,595.28 243.78,618.32 244.40,602.96 245.02,595.28 245.64,618.32 246.26,610.64 246.88,618.32 247.50,610.64 248.12,626.00 248.74,595.28 249.36,610.64 249.98,595.28 250.60,626.00 251.22,610.64 251.84,595.28 252.46,595.28 253.08,626.00 253.70,618.32 254.32,626.00 254.94,626.00 255.56,626.00 256.18,618.32 256.80,626.00 257.42,626.00 258.04,626.00 258.66,626.00 259.28,626.00 259.90,618.32 260.52,626.00 261.14,626.00 261.76,626.00 262.38,626.00 263.00,626.00 263.62,626.00 264.24,626.00 264.86,626.00 265.48,626.00 266.10,626.00 266.72,626.00 267.34,626.00 267.96,626.00 268.58,626.00 269.20,626.00 269.82,626.00 270.44,626.00 271.06,626.00 271.68,626.00 272.30,626.00 272.92,626.00 273.54,626.00 274.16,626.00 274.78,626.00 275.40,626.00 276.02,626.00 276.64,626.00 277.26,626.00 277.88,626.00 278.50,626.00 279.12,626.00" fill="none" stroke="#1A1AFF" stroke-width="1.45" stroke-linejoin="round"/>
<path d="M160.2 626.7V511.2H279.8V626.7" fill="none" stroke="#222" stroke-width="1.3"/>
<line x1="159.6" y1="626.7" x2="280.40000000000003" y2="626.7" stroke="#111" stroke-width="2"/>
<line x1="160.20" y1="626.7" x2="160.20" y2="630.4" stroke="#111" stroke-width="1.2"/>
<line x1="166.01" y1="626.7" x2="166.01" y2="628.6" stroke="#222" stroke-width="0.8"/>
<line x1="169.41" y1="626.7" x2="169.41" y2="628.6" stroke="#222" stroke-width="0.8"/>
<line x1="171.82" y1="626.7" x2="171.82" y2="628.6" stroke="#222" stroke-width="0.8"/>
<line x1="173.69" y1="626.7" x2="173.69" y2="628.6" stroke="#222" stroke-width="0.8"/>
<line x1="175.22" y1="626.7" x2="175.22" y2="628.6" stroke="#222" stroke-width="0.8"/>
<line x1="176.51" y1="626.7" x2="176.51" y2="628.6" stroke="#222" stroke-width="0.8"/>
<line x1="177.63" y1="626.7" x2="177.63" y2="628.6" stroke="#222" stroke-width="0.8"/>
<line x1="178.62" y1="626.7" x2="178.62" y2="628.6" stroke="#222" stroke-width="0.8"/>
<line x1="179.50" y1="626.7" x2="179.50" y2="630.4" stroke="#111" stroke-width="1.2"/>
<line x1="185.31" y1="626.7" x2="185.31" y2="628.6" stroke="#222" stroke-width="0.8"/>
<line x1="188.71" y1="626.7" x2="188.71" y2="628.6" stroke="#222" stroke-width="0.8"/>
<line x1="191.12" y1="626.7" x2="191.12" y2="628.6" stroke="#222" stroke-width="0.8"/>
<line x1="192.99" y1="626.7" x2="192.99" y2="628.6" stroke="#222" stroke-width="0.8"/>
<line x1="194.52" y1="626.7" x2="194.52" y2="628.6" stroke="#222" stroke-width="0.8"/>
<line x1="195.81" y1="626.7" x2="195.81" y2="628.6" stroke="#222" stroke-width="0.8"/>
<line x1="196.93" y1="626.7" x2="196.93" y2="628.6" stroke="#222" stroke-width="0.8"/>
<line x1="197.92" y1="626.7" x2="197.92" y2="628.6" stroke="#222" stroke-width="0.8"/>
<line x1="198.80" y1="626.7" x2="198.80" y2="630.4" stroke="#111" stroke-width="1.2"/>
<line x1="204.61" y1="626.7" x2="204.61" y2="628.6" stroke="#222" stroke-width="0.8"/>
<line x1="208.01" y1="626.7" x2="208.01" y2="628.6" stroke="#222" stroke-width="0.8"/>
<line x1="210.42" y1="626.7" x2="210.42" y2="628.6" stroke="#222" stroke-width="0.8"/>
<line x1="212.29" y1="626.7" x2="212.29" y2="628.6" stroke="#222" stroke-width="0.8"/>
<line x1="213.82" y1="626.7" x2="213.82" y2="628.6" stroke="#222" stroke-width="0.8"/>
<line x1="215.11" y1="626.7" x2="215.11" y2="628.6" stroke="#222" stroke-width="0.8"/>
<line x1="216.23" y1="626.7" x2="216.23" y2="628.6" stroke="#222" stroke-width="0.8"/>
<line x1="217.22" y1="626.7" x2="217.22" y2="628.6" stroke="#222" stroke-width="0.8"/>
<line x1="218.10" y1="626.7" x2="218.10" y2="630.4" stroke="#111" stroke-width="1.2"/>
<line x1="223.91" y1="626.7" x2="223.91" y2="628.6" stroke="#222" stroke-width="0.8"/>
<line x1="227.31" y1="626.7" x2="227.31" y2="628.6" stroke="#222" stroke-width="0.8"/>
<line x1="229.72" y1="626.7" x2="229.72" y2="628.6" stroke="#222" stroke-width="0.8"/>
<line x1="231.59" y1="626.7" x2="231.59" y2="628.6" stroke="#222" stroke-width="0.8"/>
<line x1="233.12" y1="626.7" x2="233.12" y2="628.6" stroke="#222" stroke-width="0.8"/>
<line x1="234.41" y1="626.7" x2="234.41" y2="628.6" stroke="#222" stroke-width="0.8"/>
<line x1="235.53" y1="626.7" x2="235.53" y2="628.6" stroke="#222" stroke-width="0.8"/>
<line x1="236.52" y1="626.7" x2="236.52" y2="628.6" stroke="#222" stroke-width="0.8"/>
<line x1="237.40" y1="626.7" x2="237.40" y2="630.4" stroke="#111" stroke-width="1.2"/>
<line x1="243.21" y1="626.7" x2="243.21" y2="628.6" stroke="#222" stroke-width="0.8"/>
<line x1="246.61" y1="626.7" x2="246.61" y2="628.6" stroke="#222" stroke-width="0.8"/>
<line x1="249.02" y1="626.7" x2="249.02" y2="628.6" stroke="#222" stroke-width="0.8"/>
<line x1="250.89" y1="626.7" x2="250.89" y2="628.6" stroke="#222" stroke-width="0.8"/>
<line x1="252.42" y1="626.7" x2="252.42" y2="628.6" stroke="#222" stroke-width="0.8"/>
<line x1="253.71" y1="626.7" x2="253.71" y2="628.6" stroke="#222" stroke-width="0.8"/>
<line x1="254.83" y1="626.7" x2="254.83" y2="628.6" stroke="#222" stroke-width="0.8"/>
<line x1="255.82" y1="626.7" x2="255.82" y2="628.6" stroke="#222" stroke-width="0.8"/>
<line x1="256.70" y1="626.7" x2="256.70" y2="630.4" stroke="#111" stroke-width="1.2"/>
<line x1="262.51" y1="626.7" x2="262.51" y2="628.6" stroke="#222" stroke-width="0.8"/>
<line x1="265.91" y1="626.7" x2="265.91" y2="628.6" stroke="#222" stroke-width="0.8"/>
<line x1="268.32" y1="626.7" x2="268.32" y2="628.6" stroke="#222" stroke-width="0.8"/>
<line x1="270.19" y1="626.7" x2="270.19" y2="628.6" stroke="#222" stroke-width="0.8"/>
<line x1="271.72" y1="626.7" x2="271.72" y2="628.6" stroke="#222" stroke-width="0.8"/>
<line x1="273.01" y1="626.7" x2="273.01" y2="628.6" stroke="#222" stroke-width="0.8"/>
<line x1="274.13" y1="626.7" x2="274.13" y2="628.6" stroke="#222" stroke-width="0.8"/>
<line x1="275.12" y1="626.7" x2="275.12" y2="628.6" stroke="#222" stroke-width="0.8"/>
<line x1="276.00" y1="626.7" x2="276.00" y2="630.4" stroke="#111" stroke-width="1.2"/>
<line x1="156.30" y1="626.70" x2="160.2" y2="626.70" stroke="#222" stroke-width="1"/>
<line x1="158.20" y1="619.00" x2="160.2" y2="619.00" stroke="#222" stroke-width="1"/>
<line x1="158.20" y1="611.30" x2="160.2" y2="611.30" stroke="#222" stroke-width="1"/>
<line x1="158.20" y1="603.60" x2="160.2" y2="603.60" stroke="#222" stroke-width="1"/>
<line x1="158.20" y1="595.90" x2="160.2" y2="595.90" stroke="#222" stroke-width="1"/>
<line x1="156.30" y1="588.20" x2="160.2" y2="588.20" stroke="#222" stroke-width="1"/>
<line x1="158.20" y1="580.50" x2="160.2" y2="580.50" stroke="#222" stroke-width="1"/>
<line x1="158.20" y1="572.80" x2="160.2" y2="572.80" stroke="#222" stroke-width="1"/>
<line x1="158.20" y1="565.10" x2="160.2" y2="565.10" stroke="#222" stroke-width="1"/>
<line x1="158.20" y1="557.40" x2="160.2" y2="557.40" stroke="#222" stroke-width="1"/>
<line x1="156.30" y1="549.70" x2="160.2" y2="549.70" stroke="#222" stroke-width="1"/>
<line x1="158.20" y1="542.00" x2="160.2" y2="542.00" stroke="#222" stroke-width="1"/>
<line x1="158.20" y1="534.30" x2="160.2" y2="534.30" stroke="#222" stroke-width="1"/>
<line x1="158.20" y1="526.60" x2="160.2" y2="526.60" stroke="#222" stroke-width="1"/>
<line x1="158.20" y1="518.90" x2="160.2" y2="518.90" stroke="#222" stroke-width="1"/>
<line x1="156.30" y1="511.20" x2="160.2" y2="511.20" stroke="#222" stroke-width="1"/>
<text transform="translate(17.80,511.20) rotate(-90)" font-size="10.8" fill="#111" text-anchor="middle" textLength="9.3" lengthAdjust="spacingAndGlyphs" font-weight="bold">15</text>
<text transform="translate(17.80,549.70) rotate(-90)" font-size="10.8" fill="#111" text-anchor="middle" textLength="9.3" lengthAdjust="spacingAndGlyphs" font-weight="bold">10</text>
<text transform="translate(17.80,588.20) rotate(-90)" font-size="10.8" fill="#111" text-anchor="middle" textLength="4.6" lengthAdjust="spacingAndGlyphs" font-weight="bold">5</text>
<text transform="translate(17.80,626.70) rotate(-90)" font-size="10.8" fill="#111" text-anchor="middle" textLength="4.6" lengthAdjust="spacingAndGlyphs" font-weight="bold">0</text>
<text x="19.50" y="644.4" font-size="10.6" font-weight="bold" fill="#111" textLength="10.4" lengthAdjust="spacingAndGlyphs">10</text><text x="31.50" y="640.6" font-size="8.2" font-weight="bold" fill="#111">1</text>
<text x="58.10" y="644.4" font-size="10.6" font-weight="bold" fill="#111" textLength="10.4" lengthAdjust="spacingAndGlyphs">10</text><text x="70.10" y="640.6" font-size="8.2" font-weight="bold" fill="#111">3</text>
<text x="96.70" y="644.4" font-size="10.6" font-weight="bold" fill="#111" textLength="10.4" lengthAdjust="spacingAndGlyphs">10</text><text x="108.70" y="640.6" font-size="8.2" font-weight="bold" fill="#111">5</text>
<text x="153.20" y="644.4" font-size="10.6" font-weight="bold" fill="#111" textLength="10.4" lengthAdjust="spacingAndGlyphs">10</text><text x="165.20" y="640.6" font-size="8.2" font-weight="bold" fill="#111">1</text>
<text x="191.80" y="644.4" font-size="10.6" font-weight="bold" fill="#111" textLength="10.4" lengthAdjust="spacingAndGlyphs">10</text><text x="203.80" y="640.6" font-size="8.2" font-weight="bold" fill="#111">3</text>
<text x="230.40" y="644.4" font-size="10.6" font-weight="bold" fill="#111" textLength="10.4" lengthAdjust="spacingAndGlyphs">10</text><text x="242.40" y="640.6" font-size="8.2" font-weight="bold" fill="#111">5</text>
<text x="265.30" y="644.4" font-size="10.6" font-weight="bold" fill="#111" textLength="10.4" lengthAdjust="spacingAndGlyphs">10</text><text x="279.10" y="640.6" font-size="8.2" font-weight="bold" fill="#111" textLength="12" lengthAdjust="spacingAndGlyphs">7.2</text>
<rect x="131" y="633" width="29" height="13" fill="#fff"/><text x="132.30" y="644.4" font-size="10.6" font-weight="bold" fill="#111" textLength="10.4" lengthAdjust="spacingAndGlyphs">10</text><text x="146.10" y="640.6" font-size="8.2" font-weight="bold" fill="#111" textLength="12" lengthAdjust="spacingAndGlyphs">7.2</text>
<path d="M89.8 575.3H127.7M89.8 570.2V581.4M127.7 570.2V581.4" stroke="#1a1a1a" stroke-width="1.5" fill="none"/>
<text x="72.80" y="554.60" font-size="10.2" fill="#111" textLength="13.3" lengthAdjust="spacingAndGlyphs" font-weight="bold">M4</text>
<text x="72.80" y="566.10" font-size="10.2" fill="#111" textLength="37.1" lengthAdjust="spacingAndGlyphs" font-weight="bold">32.00%</text>
<path d="M223.3 575.3H261.1M223.3 570.2V581.4M261.1 570.2V581.4" stroke="#1a1a1a" stroke-width="1.5" fill="none"/>
<text x="206.40" y="554.60" font-size="10.2" fill="#111" textLength="13.3" lengthAdjust="spacingAndGlyphs" font-weight="bold">M4</text>
<text x="206.40" y="566.10" font-size="10.2" fill="#111" textLength="37.1" lengthAdjust="spacingAndGlyphs" font-weight="bold">55.28%</text>
<line x1="27.4" y1="662.7" x2="93.6" y2="662.7" stroke="#000" stroke-width="1.2"/>
<text x="103.80" y="669.70" font-size="15" fill="#111" textLength="111.6" lengthAdjust="spacingAndGlyphs">FLICA-caspase1</text>
<line x1="240.8" y1="662.7" x2="273" y2="662.7" stroke="#000" stroke-width="1.2"/>
<polygon points="271,659.2 279.6,662.7 271,666.2" fill="#000"/>
<g class="hv">
<text x="401.80" y="230.40" font-size="12.5" fill="#111">C.</text>
<text x="516.40" y="242.70" font-size="13.5" fill="#111" textLength="42.9" lengthAdjust="spacingAndGlyphs">p=0.04</text>
<path d="M538.30 254.30L538.30 251.20M538.30 254.30L541.25 253.34M538.30 254.30L540.12 256.81M538.30 254.30L536.48 256.81M538.30 254.30L535.35 253.34" stroke="#111" stroke-width="1.35" stroke-linecap="butt" fill="none"/>
<path d="M505.7 255.8V267.7M505.7 261.7H569.6M569.6 255.8V267.7" stroke="#000" stroke-width="2.2" fill="none"/>
<path d="M469 258.1V396M469 394.9H609.8" stroke="#000" stroke-width="2.1" fill="none"/>
<line x1="464.6" y1="258.10" x2="469" y2="258.10" stroke="#000" stroke-width="1.8"/>
<text x="461.00" y="262.80" font-size="13.2" fill="#111" text-anchor="end" textLength="41.5" lengthAdjust="spacingAndGlyphs">50000</text>
<line x1="464.6" y1="285.45" x2="469" y2="285.45" stroke="#000" stroke-width="1.8"/>
<text x="461.00" y="290.15" font-size="13.2" fill="#111" text-anchor="end" textLength="41.5" lengthAdjust="spacingAndGlyphs">40000</text>
<line x1="464.6" y1="312.80" x2="469" y2="312.80" stroke="#000" stroke-width="1.8"/>
<text x="461.00" y="317.50" font-size="13.2" fill="#111" text-anchor="end" textLength="41.5" lengthAdjust="spacingAndGlyphs">30000</text>
<line x1="464.6" y1="340.15" x2="469" y2="340.15" stroke="#000" stroke-width="1.8"/>
<text x="461.00" y="344.85" font-size="13.2" fill="#111" text-anchor="end" textLength="41.5" lengthAdjust="spacingAndGlyphs">20000</text>
<line x1="464.6" y1="367.50" x2="469" y2="367.50" stroke="#000" stroke-width="1.8"/>
<text x="461.00" y="372.20" font-size="13.2" fill="#111" text-anchor="end" textLength="41.5" lengthAdjust="spacingAndGlyphs">10000</text>
<line x1="464.6" y1="394.85" x2="469" y2="394.85" stroke="#000" stroke-width="1.8"/>
<text x="461.00" y="399.55" font-size="13.2" fill="#111" text-anchor="end" textLength="8.3" lengthAdjust="spacingAndGlyphs">0</text>
<line x1="508.7" y1="394.9" x2="508.7" y2="398.7" stroke="#000" stroke-width="1.8"/>
<line x1="569.1" y1="394.9" x2="569.1" y2="398.7" stroke="#000" stroke-width="1.8"/>
<text x="499.60" y="415.60" font-size="14" fill="#111" textLength="20.3" lengthAdjust="spacingAndGlyphs">NC</text>
<text x="555.00" y="415.60" font-size="14" fill="#111" textLength="40.2" lengthAdjust="spacingAndGlyphs">HFRS</text>
<text transform="translate(411.90,313.30) rotate(-90)" font-size="15.2" fill="#111" text-anchor="middle" textLength="96.8" lengthAdjust="spacingAndGlyphs">MFI of NLRP3</text>
<path d="M498.9 346.1H519.2M489 352.2H529.2M498.9 358.2H519.2" stroke="#1010F0" stroke-width="2.2" fill="none"/>
<path d="M508.7 346.1V358.2" stroke="#1010F0" stroke-width="2.8" fill="none"/>
<circle cx="508.9" cy="320.2" r="1.5" fill="#1010F0"/>
<circle cx="503.8" cy="360.4" r="1.5" fill="#1010F0"/>
<circle cx="508.9" cy="362" r="1.5" fill="#1010F0"/>
<circle cx="513.7" cy="361.3" r="1.5" fill="#1010F0"/>
<circle cx="508.9" cy="366.2" r="1.5" fill="#1010F0"/>
<path d="M558.9 315.2H579.7M548.9 325.8H590M558.9 336.3H579.7" stroke="#F21B1B" stroke-width="2.3" fill="none"/>
<path d="M569.2 311.2V337" stroke="#F21B1B" stroke-width="2.8" fill="none"/>
<rect x="567.6" y="271.7" width="3.2" height="3.2" fill="#F21B1B"/>
<rect x="567.6" y="310.59999999999997" width="3.2" height="3.2" fill="#F21B1B"/>
<rect x="567.6" y="317.79999999999995" width="3.2" height="3.2" fill="#F21B1B"/>
<rect x="567.6" y="329.0" width="3.2" height="3.2" fill="#F21B1B"/>
<rect x="567.6" y="339.0" width="3.2" height="3.2" fill="#F21B1B"/>
<rect x="567.6" y="345.09999999999997" width="3.2" height="3.2" fill="#F21B1B"/>
<rect x="567.6" y="355.59999999999997" width="3.2" height="3.2" fill="#F21B1B"/>
<text x="297.00" y="478.10" font-size="14.5" fill="#111">E.</text>
<text transform="translate(304.6,566.1) rotate(-90)" font-size="14.8" fill="#111" text-anchor="middle" textLength="142" lengthAdjust="spacingAndGlyphs">FLICA-casp1<tspan font-size="9" dy="-5">+</tspan><tspan dy="5">MAIT%</tspan></text>
<path d="M341.7 505.7V626M341.7 625.3H466.8" stroke="#000" stroke-width="1.6" fill="none"/>
<line x1="337.9" y1="505.70" x2="341.7" y2="505.70" stroke="#000" stroke-width="1.5"/>
<text x="334.80" y="510.80" font-size="14.3" fill="#111" text-anchor="end" textLength="24.1" lengthAdjust="spacingAndGlyphs">100</text>
<line x1="337.9" y1="529.54" x2="341.7" y2="529.54" stroke="#000" stroke-width="1.5"/>
<text x="334.80" y="534.64" font-size="14.3" fill="#111" text-anchor="end" textLength="16.1" lengthAdjust="spacingAndGlyphs">80</text>
<line x1="337.9" y1="553.38" x2="341.7" y2="553.38" stroke="#000" stroke-width="1.5"/>
<text x="334.80" y="558.48" font-size="14.3" fill="#111" text-anchor="end" textLength="16.1" lengthAdjust="spacingAndGlyphs">60</text>
<line x1="337.9" y1="577.22" x2="341.7" y2="577.22" stroke="#000" stroke-width="1.5"/>
<text x="334.80" y="582.32" font-size="14.3" fill="#111" text-anchor="end" textLength="16.1" lengthAdjust="spacingAndGlyphs">40</text>
<line x1="337.9" y1="601.06" x2="341.7" y2="601.06" stroke="#000" stroke-width="1.5"/>
<text x="334.80" y="606.16" font-size="14.3" fill="#111" text-anchor="end" textLength="16.1" lengthAdjust="spacingAndGlyphs">20</text>
<line x1="337.9" y1="624.90" x2="341.7" y2="624.90" stroke="#000" stroke-width="1.5"/>
<text x="334.80" y="630.00" font-size="14.3" fill="#111" text-anchor="end" textLength="8" lengthAdjust="spacingAndGlyphs">0</text>
<line x1="377.3" y1="624.8" x2="377.3" y2="628.5" stroke="#000" stroke-width="1.6"/>
<line x1="430.6" y1="624.8" x2="430.6" y2="628.5" stroke="#000" stroke-width="1.6"/>
<text x="359.60" y="645.80" font-size="14" fill="#111" textLength="20.7" lengthAdjust="spacingAndGlyphs">NC</text>
<text x="410.00" y="645.80" font-size="14" fill="#111" textLength="40.7" lengthAdjust="spacingAndGlyphs">HFRS</text>
<text x="371.20" y="494.90" font-size="12.8" fill="#111" textLength="58.5" lengthAdjust="spacingAndGlyphs">p=0.0008</text>
<path d="M398.00 504.20L398.00 501.10M398.00 504.20L400.95 503.24M398.00 504.20L399.82 506.71M398.00 504.20L396.18 506.71M398.00 504.20L395.05 503.24" stroke="#111" stroke-width="1.35" stroke-linecap="butt" fill="none"/><path d="M403.50 504.20L403.50 501.10M403.50 504.20L406.45 503.24M403.50 504.20L405.32 506.71M403.50 504.20L401.68 506.71M403.50 504.20L400.55 503.24" stroke="#111" stroke-width="1.35" stroke-linecap="butt" fill="none"/><path d="M409.10 504.20L409.10 501.10M409.10 504.20L412.05 503.24M409.10 504.20L410.92 506.71M409.10 504.20L407.28 506.71M409.10 504.20L406.15 503.24" stroke="#111" stroke-width="1.35" stroke-linecap="butt" fill="none"/>
<path d="M376.4 505.9V516.4M376.4 510.7H430.6M430.6 505.9V516.4" stroke="#000" stroke-width="2.2" fill="none"/>
<path d="M368.1 586.4H386.8M368.1 598.5H386.8" stroke="#1010F0" stroke-width="2.3" fill="none"/>
<path d="M359.3 592.5H395.4" stroke="#1010F0" stroke-width="1.6" fill="none"/>
<path d="M377.2 586.4V598.5" stroke="#1010F0" stroke-width="2.4" fill="none"/>
<circle cx="377.2" cy="555.5" r="1.4" fill="#1010F0"/>
<circle cx="377.2" cy="573.2" r="1.4" fill="#1010F0"/>
<circle cx="375" cy="576.2" r="1.4" fill="#1010F0"/>
<circle cx="379.4" cy="576.2" r="1.4" fill="#1010F0"/>
<circle cx="377.2" cy="590.3" r="1.4" fill="#1010F0"/>
<circle cx="377.2" cy="595.1" r="1.4" fill="#1010F0"/>
<circle cx="377.2" cy="601.3" r="1.4" fill="#1010F0"/>
<circle cx="377.2" cy="605.3" r="1.4" fill="#1010F0"/>
<circle cx="375" cy="611.4" r="1.4" fill="#1010F0"/>
<circle cx="379.4" cy="613.8" r="1.4" fill="#1010F0"/>
<circle cx="377.2" cy="619.1" r="1.4" fill="#1010F0"/>
<path d="M421.9 549H439.6M421.9 562.7H439.6" stroke="#F21B1B" stroke-width="2" fill="none"/>
<path d="M412.7 555.8H448.9" stroke="#F21B1B" stroke-width="1.8" fill="none"/>
<path d="M430.7 548V569.5" stroke="#F21B1B" stroke-width="2.4" fill="none"/>
<rect x="429.4" y="518.0" width="2.6" height="2.6" fill="#F21B1B"/>
<rect x="429.4" y="522.4000000000001" width="2.6" height="2.6" fill="#F21B1B"/>
<rect x="427.2" y="538.7" width="2.6" height="2.6" fill="#F21B1B"/>
<rect x="431.5" y="538.7" width="2.6" height="2.6" fill="#F21B1B"/>
<rect x="427.2" y="542.2" width="2.6" height="2.6" fill="#F21B1B"/>
<rect x="431.5" y="543.5" width="2.6" height="2.6" fill="#F21B1B"/>
<rect x="429.4" y="584.1" width="2.6" height="2.6" fill="#F21B1B"/>
<rect x="429.4" y="593.0" width="2.6" height="2.6" fill="#F21B1B"/>
<rect x="429.4" y="596.0" width="2.6" height="2.6" fill="#F21B1B"/>
<text x="466.90" y="476.00" font-size="14" fill="#111">F.</text>
<text transform="translate(483.30,562.35) rotate(-90)" font-size="14.5" fill="#111" text-anchor="middle" textLength="163.5" lengthAdjust="spacingAndGlyphs">Viral load copies (log10)</text>
<path d="M519.8 515.4V616.9M519.8 615.9H678.4" stroke="#000" stroke-width="2" fill="none"/>
<line x1="515.8" y1="515.40" x2="519.7" y2="515.40" stroke="#000" stroke-width="1.6"/>
<text x="513.30" y="520.40" font-size="14.2" fill="#111" text-anchor="end" textLength="20.6" lengthAdjust="spacingAndGlyphs">8.0</text>
<line x1="515.8" y1="535.44" x2="519.7" y2="535.44" stroke="#000" stroke-width="1.6"/>
<text x="513.30" y="540.44" font-size="14.2" fill="#111" text-anchor="end" textLength="20.6" lengthAdjust="spacingAndGlyphs">7.5</text>
<line x1="515.8" y1="555.48" x2="519.7" y2="555.48" stroke="#000" stroke-width="1.6"/>
<text x="513.30" y="560.48" font-size="14.2" fill="#111" text-anchor="end" textLength="20.6" lengthAdjust="spacingAndGlyphs">7.0</text>
<line x1="515.8" y1="575.52" x2="519.7" y2="575.52" stroke="#000" stroke-width="1.6"/>
<text x="513.30" y="580.52" font-size="14.2" fill="#111" text-anchor="end" textLength="20.6" lengthAdjust="spacingAndGlyphs">6.5</text>
<line x1="515.8" y1="595.56" x2="519.7" y2="595.56" stroke="#000" stroke-width="1.6"/>
<text x="513.30" y="600.56" font-size="14.2" fill="#111" text-anchor="end" textLength="20.6" lengthAdjust="spacingAndGlyphs">6.0</text>
<line x1="515.8" y1="615.60" x2="519.7" y2="615.60" stroke="#000" stroke-width="1.6"/>
<text x="513.30" y="620.60" font-size="14.2" fill="#111" text-anchor="end" textLength="20.6" lengthAdjust="spacingAndGlyphs">5.5</text>
<line x1="519.90" y1="615.9" x2="519.90" y2="620" stroke="#000" stroke-width="1.6"/>
<text x="518.80" y="632.90" font-size="13.2" fill="#111" text-anchor="middle" textLength="7.3" lengthAdjust="spacingAndGlyphs">0</text>
<line x1="551.60" y1="615.9" x2="551.60" y2="620" stroke="#000" stroke-width="1.6"/>
<text x="549.90" y="632.90" font-size="13.2" fill="#111" text-anchor="middle" textLength="16.1" lengthAdjust="spacingAndGlyphs">20</text>
<line x1="583.30" y1="615.9" x2="583.30" y2="620" stroke="#000" stroke-width="1.6"/>
<text x="582.60" y="632.90" font-size="13.2" fill="#111" text-anchor="middle" textLength="16.1" lengthAdjust="spacingAndGlyphs">40</text>
<line x1="615.00" y1="615.9" x2="615.00" y2="620" stroke="#000" stroke-width="1.6"/>
<text x="612.30" y="632.90" font-size="13.2" fill="#111" text-anchor="middle" textLength="16.1" lengthAdjust="spacingAndGlyphs">60</text>
<line x1="646.70" y1="615.9" x2="646.70" y2="620" stroke="#000" stroke-width="1.6"/>
<text x="642.00" y="632.90" font-size="13.2" fill="#111" text-anchor="middle" textLength="16.1" lengthAdjust="spacingAndGlyphs">80</text>
<line x1="678.40" y1="615.9" x2="678.40" y2="620" stroke="#000" stroke-width="1.6"/>
<text x="671.30" y="634.10" font-size="13.2" fill="#111" text-anchor="middle" textLength="22.3" lengthAdjust="spacingAndGlyphs">100</text>
<line x1="556.4" y1="594.7" x2="660" y2="533.7" stroke="#333" stroke-width="0.9"/>
<circle cx="556.4" cy="603.7" r="2.3" fill="#000"/>
<circle cx="560.2" cy="586" r="2.3" fill="#000"/>
<circle cx="572.8" cy="561.5" r="2.3" fill="#000"/>
<circle cx="594.9" cy="601.7" r="2.3" fill="#000"/>
<circle cx="615.5" cy="545.1" r="2.3" fill="#000"/>
<circle cx="621" cy="544.6" r="2.3" fill="#000"/>
<circle cx="625.7" cy="534.2" r="2.3" fill="#000"/>
<circle cx="632.9" cy="556" r="2.3" fill="#000"/>
<circle cx="627.7" cy="594.2" r="2.3" fill="#000"/>
<circle cx="654.5" cy="525.5" r="2.3" fill="#000"/>
<circle cx="660" cy="529.2" r="2.3" fill="#000"/>
<text x="538.6" y="508.6" font-size="14.6" fill="#111">r<tspan font-size="9.5" dy="-5.5">2</tspan><tspan dy="5.5">=0.51</tspan></text>
<text x="539.30" y="526.70" font-size="14.6" fill="#111" textLength="56.4" lengthAdjust="spacingAndGlyphs">P=0.009</text>
<text x="543.50" y="650.10" font-size="14.8" fill="#111" textLength="104.3" lengthAdjust="spacingAndGlyphs">FLICA-Casp1%</text>
<text x="350.30" y="718.90" font-size="13.4" fill="#111">H.</text>
<text transform="translate(358.60,807.70) rotate(-90)" font-size="13.8" fill="#111" text-anchor="middle" textLength="141.2" lengthAdjust="spacingAndGlyphs">Relative protein level</text>
<text transform="translate(376.30,807.70) rotate(-90)" font-size="13.8" fill="#111" text-anchor="middle" textLength="107.7" lengthAdjust="spacingAndGlyphs">of pro-caspase1</text>
<path d="M409.1 736V877M409.1 876H514.4" stroke="#000" stroke-width="2" fill="none"/>
<line x1="402.9" y1="736.00" x2="409.1" y2="736.00" stroke="#000" stroke-width="1.7"/>
<text x="393.80" y="742.80" font-size="14" fill="#111" text-anchor="end" textLength="8.2" lengthAdjust="spacingAndGlyphs">4</text>
<line x1="402.9" y1="771.00" x2="409.1" y2="771.00" stroke="#000" stroke-width="1.7"/>
<text x="393.80" y="779.20" font-size="14" fill="#111" text-anchor="end" textLength="8.2" lengthAdjust="spacingAndGlyphs">3</text>
<line x1="402.9" y1="806.00" x2="409.1" y2="806.00" stroke="#000" stroke-width="1.7"/>
<text x="393.80" y="813.40" font-size="14" fill="#111" text-anchor="end" textLength="8.2" lengthAdjust="spacingAndGlyphs">2</text>
<line x1="402.9" y1="841.00" x2="409.1" y2="841.00" stroke="#000" stroke-width="1.7"/>
<text x="393.80" y="849.40" font-size="14" fill="#111" text-anchor="end" textLength="8.2" lengthAdjust="spacingAndGlyphs">1</text>
<line x1="402.9" y1="876.00" x2="409.1" y2="876.00" stroke="#000" stroke-width="1.7"/>
<text x="393.80" y="881.40" font-size="14" fill="#111" text-anchor="end" textLength="8.2" lengthAdjust="spacingAndGlyphs">0</text>
<line x1="439.5" y1="876" x2="439.5" y2="880.3" stroke="#000" stroke-width="1.7"/>
<line x1="485.2" y1="876" x2="485.2" y2="880.3" stroke="#000" stroke-width="1.7"/>
<text x="425.00" y="899.00" font-size="14" fill="#111" textLength="21.6" lengthAdjust="spacingAndGlyphs">NC</text>
<text x="468.60" y="899.00" font-size="14" fill="#111" textLength="40.4" lengthAdjust="spacingAndGlyphs">HFRS</text>
<text x="442.00" y="735.30" font-size="13" fill="#111" textLength="42.5" lengthAdjust="spacingAndGlyphs">p=0.02</text>
<path d="M463.00 746.20L463.00 743.10M463.00 746.20L465.95 745.24M463.00 746.20L464.82 748.71M463.00 746.20L461.18 748.71M463.00 746.20L460.05 745.24" stroke="#111" stroke-width="1.35" stroke-linecap="butt" fill="none"/>
<path d="M439.9 748.4V760.8M439.9 754.3H485.4M485.4 748.4V760.8" stroke="#000" stroke-width="2.2" fill="none"/>
<path d="M431.8 819.2H447M431.8 832.5H447M439.5 819.2V832.5" stroke="#1010F0" stroke-width="1.4" fill="none"/>
<path d="M424 825.7H455" stroke="#1010F0" stroke-width="1.9" fill="none"/>
<circle cx="435.1" cy="814.8" r="2.3" fill="#1010F0"/>
<circle cx="443.8" cy="813.9" r="2.3" fill="#1010F0"/>
<circle cx="439.5" cy="835" r="2.3" fill="#1010F0"/>
<circle cx="439.5" cy="840" r="2.3" fill="#1010F0"/>
<path d="M477.1 763.4H492.6M477.1 793.1H492.6M484.8 763.4V793.1" stroke="#F57272" stroke-width="1.4" fill="none"/>
<path d="M469.9 778.2H500.7" stroke="#FF1A1A" stroke-width="1.9" fill="none"/>
<rect x="478.6" y="760.1999999999999" width="4.4" height="4.4" fill="#FF1A1A"/>
<rect x="486.90000000000003" y="759.5999999999999" width="4.4" height="4.4" fill="#FF1A1A"/>
<rect x="486.90000000000003" y="763.9" width="4.4" height="4.4" fill="#FF1A1A"/>
<rect x="482.6" y="820.8" width="4.4" height="4.4" fill="#FF1A1A"/>
<text transform="translate(531.50,802.20) rotate(-90)" font-size="13.8" fill="#111" text-anchor="middle" textLength="140.6" lengthAdjust="spacingAndGlyphs">Relative protein level</text>
<text transform="translate(549.50,803.20) rotate(-90)" font-size="13.8" fill="#111" text-anchor="middle" textLength="134.9" lengthAdjust="spacingAndGlyphs">of cleaved-caspase1</text>
<path d="M573 735.7V874.8M573 873.8H671.7" stroke="#000" stroke-width="2" fill="none"/>
<line x1="567.9" y1="735.70" x2="573" y2="735.70" stroke="#000" stroke-width="1.7"/>
<text x="565.00" y="742.30" font-size="14" fill="#111" text-anchor="end" textLength="8.2" lengthAdjust="spacingAndGlyphs">5</text>
<line x1="567.9" y1="763.12" x2="573" y2="763.12" stroke="#000" stroke-width="1.7"/>
<text x="565.00" y="768.10" font-size="14" fill="#111" text-anchor="end" textLength="8.2" lengthAdjust="spacingAndGlyphs">4</text>
<line x1="567.9" y1="790.54" x2="573" y2="790.54" stroke="#000" stroke-width="1.7"/>
<text x="565.00" y="797.40" font-size="14" fill="#111" text-anchor="end" textLength="8.2" lengthAdjust="spacingAndGlyphs">3</text>
<line x1="567.9" y1="817.96" x2="573" y2="817.96" stroke="#000" stroke-width="1.7"/>
<text x="565.00" y="824.50" font-size="14" fill="#111" text-anchor="end" textLength="8.2" lengthAdjust="spacingAndGlyphs">2</text>
<line x1="567.9" y1="845.38" x2="573" y2="845.38" stroke="#000" stroke-width="1.7"/>
<text x="565.00" y="849.90" font-size="14" fill="#111" text-anchor="end" textLength="8.2" lengthAdjust="spacingAndGlyphs">1</text>
<line x1="567.9" y1="872.80" x2="573" y2="872.80" stroke="#000" stroke-width="1.7"/>
<text x="565.00" y="877.80" font-size="14" fill="#111" text-anchor="end" textLength="8.2" lengthAdjust="spacingAndGlyphs">0</text>
<line x1="601.6" y1="873.8" x2="601.6" y2="879.5" stroke="#000" stroke-width="1.7"/>
<line x1="643.2" y1="873.8" x2="643.2" y2="879.5" stroke="#000" stroke-width="1.7"/>
<text x="589.50" y="897.50" font-size="14" fill="#111" textLength="20.3" lengthAdjust="spacingAndGlyphs">NC</text>
<text x="631.40" y="897.50" font-size="14" fill="#111" textLength="40.1" lengthAdjust="spacingAndGlyphs">HFRS</text>
<text x="604.00" y="733.70" font-size="13" fill="#111" textLength="42.7" lengthAdjust="spacingAndGlyphs">p=0.02</text>
<path d="M622.80 741.60L622.80 738.50M622.80 741.60L625.75 740.64M622.80 741.60L624.62 744.11M622.80 741.60L620.98 744.11M622.80 741.60L619.85 740.64" stroke="#111" stroke-width="1.35" stroke-linecap="butt" fill="none"/>
<path d="M601.1 744.3V756.1M601.1 750.2H643.3M643.3 744.3V756.1" stroke="#000" stroke-width="2.2" fill="none"/>
<path d="M594.3 830.2H608.6M594.3 838.3H608.6M601.1 830.2V838.3" stroke="#1010F0" stroke-width="1.4" fill="none"/>
<path d="M587.2 834.3H615.4" stroke="#1010F0" stroke-width="1.9" fill="none"/>
<circle cx="601.1" cy="823.8" r="2.3" fill="#1010F0"/>
<circle cx="601.1" cy="832.4" r="2.3" fill="#1010F0"/>
<circle cx="605.5" cy="839.3" r="2.3" fill="#1010F0"/>
<circle cx="597.4" cy="842.4" r="2.3" fill="#1010F0"/>
<path d="M636.1 781.6H650.8M636.1 807H650.8M643.3 781.6V807" stroke="#FF1A1A" stroke-width="1.4" fill="none"/>
<path d="M629 794.2H657.6" stroke="#FF1A1A" stroke-width="1.9" fill="none"/>
<rect x="641.05" y="756.95" width="4.5" height="4.5" fill="#FF1A1A"/>
<rect x="636.95" y="794.55" width="4.5" height="4.5" fill="#FF1A1A"/>
<rect x="645.05" y="798.35" width="4.5" height="4.5" fill="#FF1A1A"/>
<rect x="641.05" y="817.45" width="4.5" height="4.5" fill="#FF1A1A"/>
</g>
<text x="36.80" y="716.40" font-size="13.4" fill="#111">G.</text>
<text x="142.50" y="735.50" font-size="14.8" fill="#111" textLength="28.2" lengthAdjust="spacingAndGlyphs">NC1</text>
<text x="202.90" y="735.50" font-size="14.8" fill="#111" textLength="16.0" lengthAdjust="spacingAndGlyphs">P1</text>
<text x="251.00" y="735.50" font-size="14.8" fill="#111" textLength="29.6" lengthAdjust="spacingAndGlyphs">NC2</text>
<text x="307.90" y="735.50" font-size="14.8" fill="#111" textLength="17.6" lengthAdjust="spacingAndGlyphs">P2</text>
<text x="29.30" y="772.00" font-size="14.6" fill="#111" textLength="90.2" lengthAdjust="spacingAndGlyphs">pro-caspase1</text>
<text x="51.50" y="788.40" font-size="14.6" fill="#111" textLength="46.9" lengthAdjust="spacingAndGlyphs">(&#8201;40kD&#8201;)</text>
<text x="0.30" y="810.00" font-size="14.6" fill="#111" textLength="121.5" lengthAdjust="spacingAndGlyphs">cleaved-caspase1</text>
<text x="38.70" y="828.20" font-size="14.6" fill="#111" textLength="45.6" lengthAdjust="spacingAndGlyphs">(&#8201;10kD&#8201;)</text>
<text x="61.40" y="868.00" font-size="14.6" fill="#111" textLength="53.8" lengthAdjust="spacingAndGlyphs">GAPDH</text>
<text x="63.70" y="885.60" font-size="14.6" fill="#111" textLength="46.4" lengthAdjust="spacingAndGlyphs">(&#8201;36kD&#8201;)</text>
<defs><filter id="bl1" x="-20%" y="-200%" width="140%" height="500%"><feGaussianBlur stdDeviation="0.75"/></filter><filter id="bl2" x="-20%" y="-200%" width="140%" height="500%"><feGaussianBlur stdDeviation="1.6"/></filter><filter id="bl3" x="-20%" y="-100%" width="140%" height="300%"><feGaussianBlur stdDeviation="3"/></filter><linearGradient id="gb1" x1="0" y1="0" x2="0" y2="1"><stop offset="0" stop-color="#DDDDDD"/><stop offset="0.5" stop-color="#DADADA"/><stop offset="1" stop-color="#D8D8D8"/></linearGradient></defs>
<rect x="123" y="744.2" width="210.6" height="97.9" fill="url(#gb1)"/>
<rect x="128" y="777" width="42" height="55" fill="#CACACA" opacity="0.25" filter="url(#bl3)"/>
<rect x="180" y="777" width="38" height="55" fill="#CACACA" opacity="0.45" filter="url(#bl3)"/>
<rect x="229" y="777" width="38" height="55" fill="#CACACA" opacity="0.2" filter="url(#bl3)"/>
<rect x="278" y="777" width="40" height="55" fill="#CACACA" opacity="0.3" filter="url(#bl3)"/>
<g filter="url(#bl2)">
<rect x="130" y="800.5" width="39" height="5.5" rx="2" fill="#C4C4C4"/>
<rect x="181" y="800" width="37" height="5.5" rx="2" fill="#BDBDBD"/>
<rect x="231" y="801" width="35" height="5.5" rx="2" fill="#CFCFCF"/>
<rect x="279" y="799.5" width="39" height="5.5" rx="2" fill="#C0C0C0"/>
</g>
<g filter="url(#bl1)">
<rect x="131" y="773" width="36" height="3.6" rx="1.5" fill="#6a6a6a"/>
<rect x="129" y="768.9" width="40" height="4.9" rx="2.4" fill="#050505"/>
<rect x="181" y="769.7" width="36" height="6.6" rx="3" fill="#030303"/>
<rect x="229.8" y="769.2" width="35.5" height="2.6" rx="1.3" fill="#080808"/>
<rect x="230.3" y="772.6" width="35" height="2.5" rx="1.2" fill="#101010"/>
<path d="M279 769.2Q298 768.4 316.5 767.5L317.5 770.5Q316 774.2 298 774.2L281 774.2Q279 772 279 769.2Z" fill="#040404"/>
</g>
<rect x="121" y="848.8" width="213.4" height="39.4" fill="#F1F1F1"/>
<g filter="url(#bl2)"><rect x="128" y="851" width="42" height="10" fill="#FAFAFA"/><rect x="180" y="851" width="38" height="10" fill="#FAFAFA"/><rect x="229" y="851" width="38" height="10" fill="#FAFAFA"/><rect x="280" y="851" width="38" height="10" fill="#FAFAFA"/></g>
<g filter="url(#bl2)"><rect x="183" y="871.5" width="33" height="15" fill="#D2D2D2"/><rect x="283" y="869" width="34" height="16" fill="#E6E6E6"/><rect x="232" y="870" width="35" height="12" fill="#EAEAEA"/></g>
<g filter="url(#bl1)">
<rect x="129" y="868.1" width="40.3" height="3.8" rx="1.8" fill="#050505"/>
<rect x="182.4" y="866.4" width="33.9" height="4.3" rx="2" fill="#040404"/>
<rect x="231.6" y="865.8" width="36.2" height="3" rx="1.4" fill="#080808"/>
<path d="M282.5 865.6L318.7 864.2L318.7 866.9L282.5 868.2Z" fill="#080808"/>
</g>
</svg>
</body></html>
